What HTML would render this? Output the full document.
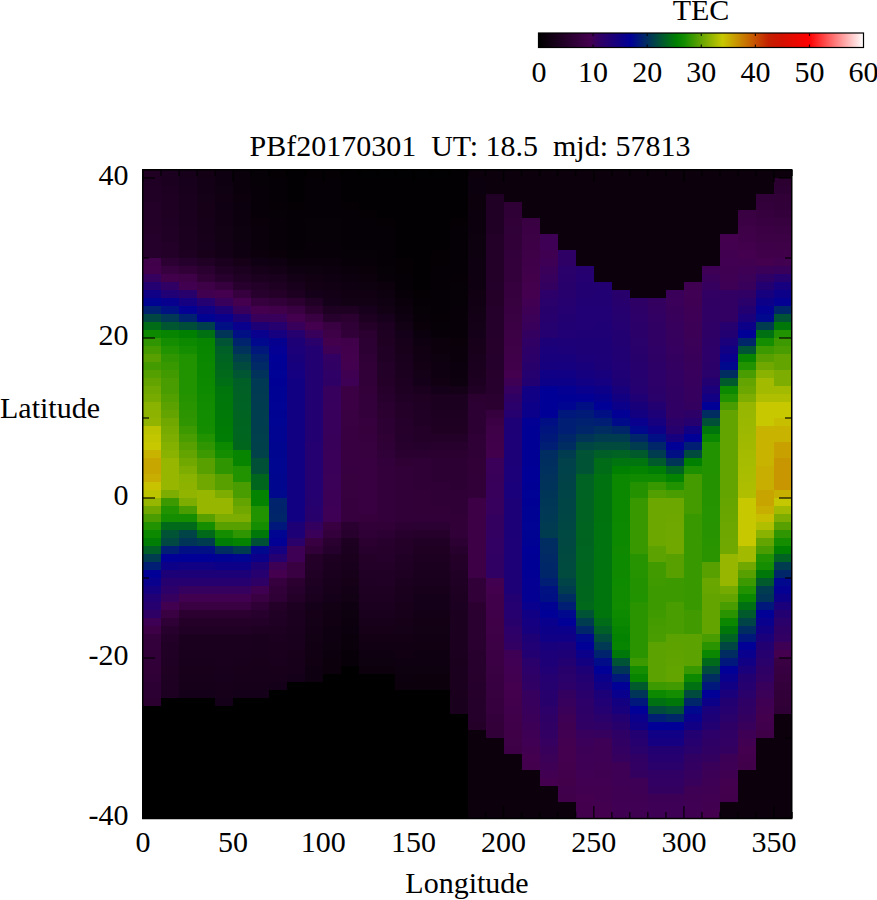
<!DOCTYPE html>
<html><head><meta charset="utf-8"><title>TEC</title>
<style>
html,body{margin:0;padding:0;background:#fff;}
svg{display:block;}
text{font-family:"Liberation Serif",serif;font-size:30px;fill:#000;}
</style></head><body>
<svg width="877" height="900" viewBox="0 0 877 900">
<defs><linearGradient id="cb" x1="0" x2="1" y1="0" y2="0"><stop offset="0.00%" stop-color="#000000"/><stop offset="15.83%" stop-color="#44004e"/><stop offset="18.33%" stop-color="#320062"/><stop offset="23.33%" stop-color="#1a007a"/><stop offset="28.33%" stop-color="#000096"/><stop offset="42.50%" stop-color="#008000"/><stop offset="45.00%" stop-color="#148e00"/><stop offset="50.00%" stop-color="#64a400"/><stop offset="56.67%" stop-color="#c8c800"/><stop offset="63.33%" stop-color="#c87800"/><stop offset="70.83%" stop-color="#c42000"/><stop offset="75.00%" stop-color="#d41000"/><stop offset="83.33%" stop-color="#ff0000"/><stop offset="91.67%" stop-color="#ff8080"/><stop offset="100.00%" stop-color="#ffffff"/></linearGradient></defs>
<rect width="877" height="900" fill="#fff"/>
<g shape-rendering="crispEdges">
<rect x="143.0" y="170" width="18.33" height="8" fill="#1f0023"/>
<rect x="143.0" y="178" width="18.33" height="8" fill="#1f0024"/>
<rect x="143.0" y="186" width="18.33" height="8" fill="#200025"/>
<rect x="143.0" y="194" width="18.33" height="8" fill="#210026"/>
<rect x="143.0" y="202" width="18.33" height="16" fill="#220027"/>
<rect x="143.0" y="218" width="18.33" height="8" fill="#230028"/>
<rect x="143.0" y="226" width="18.33" height="8" fill="#240029"/>
<rect x="143.0" y="234" width="18.33" height="8" fill="#25002a"/>
<rect x="143.0" y="242" width="18.33" height="8" fill="#25002b"/>
<rect x="143.0" y="250" width="18.33" height="8" fill="#26002c"/>
<rect x="143.0" y="258" width="18.33" height="8" fill="#40004a"/>
<rect x="143.0" y="266" width="18.33" height="8" fill="#42004c"/>
<rect x="143.0" y="274" width="18.33" height="8" fill="#36005e"/>
<rect x="143.0" y="282" width="18.33" height="8" fill="#240070"/>
<rect x="143.0" y="290" width="18.33" height="8" fill="#100085"/>
<rect x="143.0" y="298" width="18.33" height="8" fill="#000392"/>
<rect x="143.0" y="306" width="18.33" height="8" fill="#00216f"/>
<rect x="143.0" y="314" width="18.33" height="8" fill="#004743"/>
<rect x="143.0" y="322" width="18.33" height="8" fill="#006c17"/>
<rect x="143.0" y="330" width="18.33" height="8" fill="#0d8900"/>
<rect x="143.0" y="338" width="18.33" height="8" fill="#2f9500"/>
<rect x="143.0" y="346" width="18.33" height="8" fill="#439b00"/>
<rect x="143.0" y="354" width="18.33" height="8" fill="#57a000"/>
<rect x="143.0" y="362" width="18.33" height="8" fill="#449b00"/>
<rect x="143.0" y="370" width="18.33" height="8" fill="#54a000"/>
<rect x="143.0" y="378" width="18.33" height="8" fill="#64a400"/>
<rect x="143.0" y="386" width="18.33" height="8" fill="#6ea800"/>
<rect x="143.0" y="394" width="18.33" height="8" fill="#78ab00"/>
<rect x="143.0" y="402" width="18.33" height="8" fill="#8ab200"/>
<rect x="143.0" y="410" width="18.33" height="8" fill="#8db300"/>
<rect x="143.0" y="418" width="18.33" height="8" fill="#91b400"/>
<rect x="143.0" y="426" width="18.33" height="8" fill="#bcc400"/>
<rect x="143.0" y="434" width="18.33" height="8" fill="#c2c600"/>
<rect x="143.0" y="442" width="18.33" height="8" fill="#c8c800"/>
<rect x="143.0" y="450" width="18.33" height="8" fill="#c8b400"/>
<rect x="143.0" y="458" width="18.33" height="16" fill="#c8a600"/>
<rect x="143.0" y="474" width="18.33" height="8" fill="#c8ae00"/>
<rect x="143.0" y="482" width="18.33" height="8" fill="#c8c200"/>
<rect x="143.0" y="490" width="18.33" height="8" fill="#bcc400"/>
<rect x="143.0" y="498" width="18.33" height="8" fill="#96b600"/>
<rect x="143.0" y="506" width="18.33" height="8" fill="#70a800"/>
<rect x="143.0" y="514" width="18.33" height="8" fill="#499d00"/>
<rect x="143.0" y="522" width="18.33" height="8" fill="#219200"/>
<rect x="143.0" y="530" width="18.33" height="8" fill="#0d8900"/>
<rect x="143.0" y="538" width="18.33" height="8" fill="#007d04"/>
<rect x="143.0" y="546" width="18.33" height="8" fill="#005f27"/>
<rect x="143.0" y="554" width="18.33" height="8" fill="#003c4f"/>
<rect x="143.0" y="562" width="18.33" height="8" fill="#001e73"/>
<rect x="143.0" y="570" width="18.33" height="8" fill="#000096"/>
<rect x="143.0" y="578" width="18.33" height="8" fill="#09008d"/>
<rect x="143.0" y="586" width="18.33" height="8" fill="#140081"/>
<rect x="143.0" y="594" width="18.33" height="8" fill="#200074"/>
<rect x="143.0" y="602" width="18.33" height="8" fill="#26006e"/>
<rect x="143.0" y="610" width="18.33" height="8" fill="#2e0066"/>
<rect x="143.0" y="618" width="18.33" height="8" fill="#3e0055"/>
<rect x="143.0" y="626" width="18.33" height="8" fill="#3d0046"/>
<rect x="143.0" y="634" width="18.33" height="8" fill="#34003c"/>
<rect x="143.0" y="642" width="18.33" height="8" fill="#33003b"/>
<rect x="143.0" y="650" width="18.33" height="8" fill="#320039"/>
<rect x="143.0" y="658" width="18.33" height="8" fill="#310038"/>
<rect x="143.0" y="666" width="18.33" height="8" fill="#300037"/>
<rect x="143.0" y="674" width="18.33" height="8" fill="#2e0035"/>
<rect x="143.0" y="682" width="18.33" height="8" fill="#2d0034"/>
<rect x="143.0" y="690" width="18.33" height="8" fill="#2c0033"/>
<rect x="143.0" y="698" width="18.33" height="8" fill="#2b0031"/>
<rect x="143.0" y="706" width="18.33" height="112" fill="#000000"/>
<rect x="161.03" y="170" width="18.33" height="8" fill="#1b001f"/>
<rect x="161.03" y="178" width="18.33" height="8" fill="#1c0020"/>
<rect x="161.03" y="186" width="18.33" height="8" fill="#1d0021"/>
<rect x="161.03" y="194" width="18.33" height="8" fill="#1d0022"/>
<rect x="161.03" y="202" width="18.33" height="8" fill="#1e0022"/>
<rect x="161.03" y="210" width="18.33" height="8" fill="#1f0023"/>
<rect x="161.03" y="218" width="18.33" height="8" fill="#1f0024"/>
<rect x="161.03" y="226" width="18.33" height="8" fill="#200025"/>
<rect x="161.03" y="234" width="18.33" height="8" fill="#210026"/>
<rect x="161.03" y="242" width="18.33" height="16" fill="#220027"/>
<rect x="161.03" y="258" width="18.33" height="8" fill="#2d0033"/>
<rect x="161.03" y="266" width="18.33" height="8" fill="#37003f"/>
<rect x="161.03" y="274" width="18.33" height="8" fill="#42004c"/>
<rect x="161.03" y="282" width="18.33" height="8" fill="#300064"/>
<rect x="161.03" y="290" width="18.33" height="8" fill="#200074"/>
<rect x="161.03" y="298" width="18.33" height="8" fill="#07008f"/>
<rect x="161.03" y="306" width="18.33" height="8" fill="#001281"/>
<rect x="161.03" y="314" width="18.33" height="8" fill="#003855"/>
<rect x="161.03" y="322" width="18.33" height="8" fill="#005631"/>
<rect x="161.03" y="330" width="18.33" height="8" fill="#078500"/>
<rect x="161.03" y="338" width="18.33" height="8" fill="#148e00"/>
<rect x="161.03" y="346" width="18.33" height="8" fill="#219200"/>
<rect x="161.03" y="354" width="18.33" height="8" fill="#2f9500"/>
<rect x="161.03" y="362" width="18.33" height="8" fill="#389800"/>
<rect x="161.03" y="370" width="18.33" height="8" fill="#409a00"/>
<rect x="161.03" y="378" width="18.33" height="16" fill="#499d00"/>
<rect x="161.03" y="394" width="18.33" height="8" fill="#529f00"/>
<rect x="161.03" y="402" width="18.33" height="8" fill="#5ba200"/>
<rect x="161.03" y="410" width="18.33" height="8" fill="#64a400"/>
<rect x="161.03" y="418" width="18.33" height="8" fill="#70a800"/>
<rect x="161.03" y="426" width="18.33" height="8" fill="#77ab00"/>
<rect x="161.03" y="434" width="18.33" height="8" fill="#7dad00"/>
<rect x="161.03" y="442" width="18.33" height="8" fill="#84b000"/>
<rect x="161.03" y="450" width="18.33" height="8" fill="#8ab200"/>
<rect x="161.03" y="458" width="18.33" height="32" fill="#96b600"/>
<rect x="161.03" y="490" width="18.33" height="8" fill="#7dad00"/>
<rect x="161.03" y="498" width="18.33" height="8" fill="#3c9900"/>
<rect x="161.03" y="506" width="18.33" height="8" fill="#219200"/>
<rect x="161.03" y="514" width="18.33" height="8" fill="#148e00"/>
<rect x="161.03" y="522" width="18.33" height="8" fill="#00691a"/>
<rect x="161.03" y="530" width="18.33" height="8" fill="#005335"/>
<rect x="161.03" y="538" width="18.33" height="8" fill="#004841"/>
<rect x="161.03" y="546" width="18.33" height="8" fill="#001e73"/>
<rect x="161.03" y="554" width="18.33" height="8" fill="#000096"/>
<rect x="161.03" y="562" width="18.33" height="8" fill="#0d0088"/>
<rect x="161.03" y="570" width="18.33" height="8" fill="#1c0078"/>
<rect x="161.03" y="578" width="18.33" height="8" fill="#26006e"/>
<rect x="161.03" y="586" width="18.33" height="8" fill="#2c0068"/>
<rect x="161.03" y="594" width="18.33" height="8" fill="#36005e"/>
<rect x="161.03" y="602" width="18.33" height="8" fill="#420051"/>
<rect x="161.03" y="610" width="18.33" height="8" fill="#390042"/>
<rect x="161.03" y="618" width="18.33" height="8" fill="#2f0035"/>
<rect x="161.03" y="626" width="18.33" height="8" fill="#27002d"/>
<rect x="161.03" y="634" width="18.33" height="8" fill="#220027"/>
<rect x="161.03" y="642" width="18.33" height="8" fill="#210026"/>
<rect x="161.03" y="650" width="18.33" height="8" fill="#200025"/>
<rect x="161.03" y="658" width="18.33" height="8" fill="#1f0024"/>
<rect x="161.03" y="666" width="18.33" height="8" fill="#1f0023"/>
<rect x="161.03" y="674" width="18.33" height="8" fill="#1e0022"/>
<rect x="161.03" y="682" width="18.33" height="8" fill="#1d0022"/>
<rect x="161.03" y="690" width="18.33" height="8" fill="#1d0021"/>
<rect x="161.03" y="698" width="18.33" height="120" fill="#000000"/>
<rect x="179.06" y="170" width="18.33" height="8" fill="#17001a"/>
<rect x="179.06" y="178" width="18.33" height="8" fill="#17001b"/>
<rect x="179.06" y="186" width="18.33" height="8" fill="#18001c"/>
<rect x="179.06" y="194" width="18.33" height="8" fill="#19001c"/>
<rect x="179.06" y="202" width="18.33" height="8" fill="#19001d"/>
<rect x="179.06" y="210" width="18.33" height="16" fill="#1a001e"/>
<rect x="179.06" y="226" width="18.33" height="8" fill="#1b001f"/>
<rect x="179.06" y="234" width="18.33" height="8" fill="#1b0020"/>
<rect x="179.06" y="242" width="18.33" height="8" fill="#1c0020"/>
<rect x="179.06" y="250" width="18.33" height="8" fill="#1d0021"/>
<rect x="179.06" y="258" width="18.33" height="8" fill="#26002c"/>
<rect x="179.06" y="266" width="18.33" height="8" fill="#300037"/>
<rect x="179.06" y="274" width="18.33" height="8" fill="#3e0047"/>
<rect x="179.06" y="282" width="18.33" height="8" fill="#420051"/>
<rect x="179.06" y="290" width="18.33" height="8" fill="#28006c"/>
<rect x="179.06" y="298" width="18.33" height="8" fill="#140081"/>
<rect x="179.06" y="306" width="18.33" height="8" fill="#030093"/>
<rect x="179.06" y="314" width="18.33" height="8" fill="#00216f"/>
<rect x="179.06" y="322" width="18.33" height="8" fill="#004e3a"/>
<rect x="179.06" y="330" width="18.33" height="8" fill="#008000"/>
<rect x="179.06" y="338" width="18.33" height="8" fill="#0d8900"/>
<rect x="179.06" y="346" width="18.33" height="8" fill="#148e00"/>
<rect x="179.06" y="354" width="18.33" height="40" fill="#219200"/>
<rect x="179.06" y="394" width="18.33" height="8" fill="#259300"/>
<rect x="179.06" y="402" width="18.33" height="8" fill="#289400"/>
<rect x="179.06" y="410" width="18.33" height="8" fill="#2b9400"/>
<rect x="179.06" y="418" width="18.33" height="8" fill="#2f9500"/>
<rect x="179.06" y="426" width="18.33" height="8" fill="#3c9900"/>
<rect x="179.06" y="434" width="18.33" height="8" fill="#499d00"/>
<rect x="179.06" y="442" width="18.33" height="8" fill="#57a000"/>
<rect x="179.06" y="450" width="18.33" height="8" fill="#64a400"/>
<rect x="179.06" y="458" width="18.33" height="8" fill="#70a800"/>
<rect x="179.06" y="466" width="18.33" height="8" fill="#7dad00"/>
<rect x="179.06" y="474" width="18.33" height="8" fill="#8ab200"/>
<rect x="179.06" y="482" width="18.33" height="8" fill="#8db300"/>
<rect x="179.06" y="490" width="18.33" height="8" fill="#91b400"/>
<rect x="179.06" y="498" width="18.33" height="8" fill="#7dad00"/>
<rect x="179.06" y="506" width="18.33" height="8" fill="#499d00"/>
<rect x="179.06" y="514" width="18.33" height="8" fill="#148e00"/>
<rect x="179.06" y="522" width="18.33" height="8" fill="#00691a"/>
<rect x="179.06" y="530" width="18.33" height="8" fill="#004447"/>
<rect x="179.06" y="538" width="18.33" height="8" fill="#003558"/>
<rect x="179.06" y="546" width="18.33" height="8" fill="#000f84"/>
<rect x="179.06" y="554" width="18.33" height="8" fill="#000096"/>
<rect x="179.06" y="562" width="18.33" height="8" fill="#0f0086"/>
<rect x="179.06" y="570" width="18.33" height="8" fill="#1c0078"/>
<rect x="179.06" y="578" width="18.33" height="8" fill="#26006e"/>
<rect x="179.06" y="586" width="18.33" height="8" fill="#36005e"/>
<rect x="179.06" y="594" width="18.33" height="8" fill="#420051"/>
<rect x="179.06" y="602" width="18.33" height="8" fill="#390042"/>
<rect x="179.06" y="610" width="18.33" height="8" fill="#2b0031"/>
<rect x="179.06" y="618" width="18.33" height="8" fill="#240029"/>
<rect x="179.06" y="626" width="18.33" height="8" fill="#200025"/>
<rect x="179.06" y="634" width="18.33" height="16" fill="#1a001e"/>
<rect x="179.06" y="650" width="18.33" height="8" fill="#19001d"/>
<rect x="179.06" y="658" width="18.33" height="8" fill="#18001c"/>
<rect x="179.06" y="666" width="18.33" height="8" fill="#18001b"/>
<rect x="179.06" y="674" width="18.33" height="8" fill="#17001a"/>
<rect x="179.06" y="682" width="18.33" height="8" fill="#160019"/>
<rect x="179.06" y="690" width="18.33" height="8" fill="#150019"/>
<rect x="179.06" y="698" width="18.33" height="120" fill="#000000"/>
<rect x="197.09" y="170" width="18.33" height="8" fill="#130015"/>
<rect x="197.09" y="178" width="18.33" height="8" fill="#130016"/>
<rect x="197.09" y="186" width="18.33" height="8" fill="#140016"/>
<rect x="197.09" y="194" width="18.33" height="8" fill="#140017"/>
<rect x="197.09" y="202" width="18.33" height="16" fill="#150018"/>
<rect x="197.09" y="218" width="18.33" height="16" fill="#160019"/>
<rect x="197.09" y="234" width="18.33" height="8" fill="#17001a"/>
<rect x="197.09" y="242" width="18.33" height="8" fill="#17001b"/>
<rect x="197.09" y="250" width="18.33" height="8" fill="#18001b"/>
<rect x="197.09" y="258" width="18.33" height="8" fill="#200025"/>
<rect x="197.09" y="266" width="18.33" height="8" fill="#29002f"/>
<rect x="197.09" y="274" width="18.33" height="8" fill="#300037"/>
<rect x="197.09" y="282" width="18.33" height="8" fill="#3e0047"/>
<rect x="197.09" y="290" width="18.33" height="8" fill="#420051"/>
<rect x="197.09" y="298" width="18.33" height="8" fill="#240070"/>
<rect x="197.09" y="306" width="18.33" height="8" fill="#100085"/>
<rect x="197.09" y="314" width="18.33" height="8" fill="#000392"/>
<rect x="197.09" y="322" width="18.33" height="8" fill="#003f4c"/>
<rect x="197.09" y="330" width="18.33" height="8" fill="#007112"/>
<rect x="197.09" y="338" width="18.33" height="8" fill="#078500"/>
<rect x="197.09" y="346" width="18.33" height="8" fill="#088600"/>
<rect x="197.09" y="354" width="18.33" height="8" fill="#098700"/>
<rect x="197.09" y="362" width="18.33" height="8" fill="#0b8700"/>
<rect x="197.09" y="370" width="18.33" height="8" fill="#0c8800"/>
<rect x="197.09" y="378" width="18.33" height="8" fill="#0d8900"/>
<rect x="197.09" y="386" width="18.33" height="8" fill="#0e8a00"/>
<rect x="197.09" y="394" width="18.33" height="8" fill="#108b00"/>
<rect x="197.09" y="402" width="18.33" height="8" fill="#118c00"/>
<rect x="197.09" y="410" width="18.33" height="8" fill="#128c00"/>
<rect x="197.09" y="418" width="18.33" height="8" fill="#138d00"/>
<rect x="197.09" y="426" width="18.33" height="8" fill="#148e00"/>
<rect x="197.09" y="434" width="18.33" height="8" fill="#219200"/>
<rect x="197.09" y="442" width="18.33" height="8" fill="#2f9500"/>
<rect x="197.09" y="450" width="18.33" height="8" fill="#3c9900"/>
<rect x="197.09" y="458" width="18.33" height="16" fill="#57a000"/>
<rect x="197.09" y="474" width="18.33" height="16" fill="#70a800"/>
<rect x="197.09" y="490" width="18.33" height="24" fill="#96b600"/>
<rect x="197.09" y="514" width="18.33" height="8" fill="#57a000"/>
<rect x="197.09" y="522" width="18.33" height="8" fill="#148e00"/>
<rect x="197.09" y="530" width="18.33" height="8" fill="#00691a"/>
<rect x="197.09" y="538" width="18.33" height="8" fill="#003c4f"/>
<rect x="197.09" y="546" width="18.33" height="8" fill="#000f84"/>
<rect x="197.09" y="554" width="18.33" height="8" fill="#000096"/>
<rect x="197.09" y="562" width="18.33" height="8" fill="#0f0086"/>
<rect x="197.09" y="570" width="18.33" height="8" fill="#1c0078"/>
<rect x="197.09" y="578" width="18.33" height="8" fill="#26006e"/>
<rect x="197.09" y="586" width="18.33" height="8" fill="#36005e"/>
<rect x="197.09" y="594" width="18.33" height="8" fill="#420051"/>
<rect x="197.09" y="602" width="18.33" height="8" fill="#390042"/>
<rect x="197.09" y="610" width="18.33" height="8" fill="#2b0031"/>
<rect x="197.09" y="618" width="18.33" height="8" fill="#240029"/>
<rect x="197.09" y="626" width="18.33" height="8" fill="#200025"/>
<rect x="197.09" y="634" width="18.33" height="16" fill="#1a001e"/>
<rect x="197.09" y="650" width="18.33" height="8" fill="#19001d"/>
<rect x="197.09" y="658" width="18.33" height="8" fill="#18001c"/>
<rect x="197.09" y="666" width="18.33" height="8" fill="#18001b"/>
<rect x="197.09" y="674" width="18.33" height="8" fill="#17001a"/>
<rect x="197.09" y="682" width="18.33" height="8" fill="#160019"/>
<rect x="197.09" y="690" width="18.33" height="8" fill="#150019"/>
<rect x="197.09" y="698" width="18.33" height="120" fill="#000000"/>
<rect x="215.12" y="170" width="18.33" height="8" fill="#0e0010"/>
<rect x="215.12" y="178" width="18.33" height="8" fill="#0f0011"/>
<rect x="215.12" y="186" width="18.33" height="8" fill="#0f0012"/>
<rect x="215.12" y="194" width="18.33" height="8" fill="#100012"/>
<rect x="215.12" y="202" width="18.33" height="8" fill="#100013"/>
<rect x="215.12" y="210" width="18.33" height="8" fill="#110013"/>
<rect x="215.12" y="218" width="18.33" height="8" fill="#110014"/>
<rect x="215.12" y="226" width="18.33" height="8" fill="#120014"/>
<rect x="215.12" y="234" width="18.33" height="8" fill="#120015"/>
<rect x="215.12" y="242" width="18.33" height="16" fill="#130016"/>
<rect x="215.12" y="258" width="18.33" height="8" fill="#1a001e"/>
<rect x="215.12" y="266" width="18.33" height="8" fill="#210025"/>
<rect x="215.12" y="274" width="18.33" height="8" fill="#27002d"/>
<rect x="215.12" y="282" width="18.33" height="8" fill="#36003e"/>
<rect x="215.12" y="290" width="18.33" height="8" fill="#44004e"/>
<rect x="215.12" y="298" width="18.33" height="8" fill="#38005b"/>
<rect x="215.12" y="306" width="18.33" height="8" fill="#1e0076"/>
<rect x="215.12" y="314" width="18.33" height="8" fill="#09008d"/>
<rect x="215.12" y="322" width="18.33" height="8" fill="#000f84"/>
<rect x="215.12" y="330" width="18.33" height="8" fill="#003558"/>
<rect x="215.12" y="338" width="18.33" height="8" fill="#005335"/>
<rect x="215.12" y="346" width="18.33" height="8" fill="#005f27"/>
<rect x="215.12" y="354" width="18.33" height="8" fill="#006322"/>
<rect x="215.12" y="362" width="18.33" height="8" fill="#00661e"/>
<rect x="215.12" y="370" width="18.33" height="8" fill="#006a1a"/>
<rect x="215.12" y="378" width="18.33" height="8" fill="#006e15"/>
<rect x="215.12" y="386" width="18.33" height="8" fill="#00750c"/>
<rect x="215.12" y="394" width="18.33" height="8" fill="#00770b"/>
<rect x="215.12" y="402" width="18.33" height="8" fill="#007809"/>
<rect x="215.12" y="410" width="18.33" height="8" fill="#007908"/>
<rect x="215.12" y="418" width="18.33" height="8" fill="#007a06"/>
<rect x="215.12" y="426" width="18.33" height="8" fill="#007c05"/>
<rect x="215.12" y="434" width="18.33" height="8" fill="#007d04"/>
<rect x="215.12" y="442" width="18.33" height="8" fill="#0d8900"/>
<rect x="215.12" y="450" width="18.33" height="8" fill="#148e00"/>
<rect x="215.12" y="458" width="18.33" height="16" fill="#2f9500"/>
<rect x="215.12" y="474" width="18.33" height="16" fill="#57a000"/>
<rect x="215.12" y="490" width="18.33" height="8" fill="#7dad00"/>
<rect x="215.12" y="498" width="18.33" height="16" fill="#96b600"/>
<rect x="215.12" y="514" width="18.33" height="8" fill="#7dad00"/>
<rect x="215.12" y="522" width="18.33" height="8" fill="#57a000"/>
<rect x="215.12" y="530" width="18.33" height="8" fill="#148e00"/>
<rect x="215.12" y="538" width="18.33" height="8" fill="#007d04"/>
<rect x="215.12" y="546" width="18.33" height="8" fill="#002d61"/>
<rect x="215.12" y="554" width="18.33" height="8" fill="#000392"/>
<rect x="215.12" y="562" width="18.33" height="8" fill="#0d0088"/>
<rect x="215.12" y="570" width="18.33" height="8" fill="#1c0078"/>
<rect x="215.12" y="578" width="18.33" height="8" fill="#26006e"/>
<rect x="215.12" y="586" width="18.33" height="8" fill="#36005e"/>
<rect x="215.12" y="594" width="18.33" height="8" fill="#420051"/>
<rect x="215.12" y="602" width="18.33" height="8" fill="#390042"/>
<rect x="215.12" y="610" width="18.33" height="8" fill="#2b0031"/>
<rect x="215.12" y="618" width="18.33" height="8" fill="#240029"/>
<rect x="215.12" y="626" width="18.33" height="8" fill="#200025"/>
<rect x="215.12" y="634" width="18.33" height="16" fill="#1a001e"/>
<rect x="215.12" y="650" width="18.33" height="8" fill="#19001d"/>
<rect x="215.12" y="658" width="18.33" height="8" fill="#19001c"/>
<rect x="215.12" y="666" width="18.33" height="8" fill="#18001c"/>
<rect x="215.12" y="674" width="18.33" height="8" fill="#17001b"/>
<rect x="215.12" y="682" width="18.33" height="8" fill="#17001a"/>
<rect x="215.12" y="690" width="18.33" height="8" fill="#160019"/>
<rect x="215.12" y="698" width="18.33" height="8" fill="#150019"/>
<rect x="215.12" y="706" width="18.33" height="112" fill="#000000"/>
<rect x="233.15" y="170" width="18.33" height="8" fill="#09000b"/>
<rect x="233.15" y="178" width="18.33" height="8" fill="#0a000b"/>
<rect x="233.15" y="186" width="18.33" height="8" fill="#0a000c"/>
<rect x="233.15" y="194" width="18.33" height="8" fill="#0b000c"/>
<rect x="233.15" y="202" width="18.33" height="8" fill="#0b000d"/>
<rect x="233.15" y="210" width="18.33" height="16" fill="#0c000e"/>
<rect x="233.15" y="226" width="18.33" height="16" fill="#0d000f"/>
<rect x="233.15" y="242" width="18.33" height="16" fill="#0e0010"/>
<rect x="233.15" y="258" width="18.33" height="8" fill="#150018"/>
<rect x="233.15" y="266" width="18.33" height="8" fill="#1b001f"/>
<rect x="233.15" y="274" width="18.33" height="8" fill="#210026"/>
<rect x="233.15" y="282" width="18.33" height="8" fill="#27002d"/>
<rect x="233.15" y="290" width="18.33" height="8" fill="#36003e"/>
<rect x="233.15" y="298" width="18.33" height="8" fill="#44004e"/>
<rect x="233.15" y="306" width="18.33" height="8" fill="#38005b"/>
<rect x="233.15" y="314" width="18.33" height="8" fill="#1e0076"/>
<rect x="233.15" y="322" width="18.33" height="8" fill="#09008d"/>
<rect x="233.15" y="330" width="18.33" height="8" fill="#000f84"/>
<rect x="233.15" y="338" width="18.33" height="8" fill="#00236d"/>
<rect x="233.15" y="346" width="18.33" height="8" fill="#00325c"/>
<rect x="233.15" y="354" width="18.33" height="8" fill="#00414a"/>
<rect x="233.15" y="362" width="18.33" height="8" fill="#004b3e"/>
<rect x="233.15" y="370" width="18.33" height="8" fill="#005533"/>
<rect x="233.15" y="378" width="18.33" height="8" fill="#005f27"/>
<rect x="233.15" y="386" width="18.33" height="8" fill="#006026"/>
<rect x="233.15" y="394" width="18.33" height="8" fill="#006125"/>
<rect x="233.15" y="402" width="18.33" height="8" fill="#006224"/>
<rect x="233.15" y="410" width="18.33" height="8" fill="#006322"/>
<rect x="233.15" y="418" width="18.33" height="8" fill="#006421"/>
<rect x="233.15" y="426" width="18.33" height="8" fill="#006520"/>
<rect x="233.15" y="434" width="18.33" height="8" fill="#00651f"/>
<rect x="233.15" y="442" width="18.33" height="8" fill="#00661e"/>
<rect x="233.15" y="450" width="18.33" height="16" fill="#078500"/>
<rect x="233.15" y="466" width="18.33" height="16" fill="#219200"/>
<rect x="233.15" y="482" width="18.33" height="16" fill="#499d00"/>
<rect x="233.15" y="498" width="18.33" height="8" fill="#64a400"/>
<rect x="233.15" y="506" width="18.33" height="8" fill="#70a800"/>
<rect x="233.15" y="514" width="18.33" height="8" fill="#7dad00"/>
<rect x="233.15" y="522" width="18.33" height="8" fill="#57a000"/>
<rect x="233.15" y="530" width="18.33" height="8" fill="#2f9500"/>
<rect x="233.15" y="538" width="18.33" height="8" fill="#048300"/>
<rect x="233.15" y="546" width="18.33" height="8" fill="#003c4f"/>
<rect x="233.15" y="554" width="18.33" height="8" fill="#000591"/>
<rect x="233.15" y="562" width="18.33" height="8" fill="#0d0088"/>
<rect x="233.15" y="570" width="18.33" height="8" fill="#1c0078"/>
<rect x="233.15" y="578" width="18.33" height="8" fill="#26006e"/>
<rect x="233.15" y="586" width="18.33" height="8" fill="#36005e"/>
<rect x="233.15" y="594" width="18.33" height="8" fill="#420051"/>
<rect x="233.15" y="602" width="18.33" height="8" fill="#390042"/>
<rect x="233.15" y="610" width="18.33" height="8" fill="#2b0031"/>
<rect x="233.15" y="618" width="18.33" height="8" fill="#240029"/>
<rect x="233.15" y="626" width="18.33" height="8" fill="#200025"/>
<rect x="233.15" y="634" width="18.33" height="16" fill="#1a001e"/>
<rect x="233.15" y="650" width="18.33" height="8" fill="#19001d"/>
<rect x="233.15" y="658" width="18.33" height="8" fill="#18001c"/>
<rect x="233.15" y="666" width="18.33" height="8" fill="#18001b"/>
<rect x="233.15" y="674" width="18.33" height="8" fill="#17001a"/>
<rect x="233.15" y="682" width="18.33" height="8" fill="#160019"/>
<rect x="233.15" y="690" width="18.33" height="8" fill="#150019"/>
<rect x="233.15" y="698" width="18.33" height="120" fill="#000000"/>
<rect x="251.18" y="170" width="18.33" height="16" fill="#060007"/>
<rect x="251.18" y="186" width="18.33" height="16" fill="#070008"/>
<rect x="251.18" y="202" width="18.33" height="16" fill="#080009"/>
<rect x="251.18" y="218" width="18.33" height="8" fill="#09000a"/>
<rect x="251.18" y="226" width="18.33" height="8" fill="#09000b"/>
<rect x="251.18" y="234" width="18.33" height="8" fill="#0a000b"/>
<rect x="251.18" y="242" width="18.33" height="8" fill="#0a000c"/>
<rect x="251.18" y="250" width="18.33" height="8" fill="#0b000c"/>
<rect x="251.18" y="258" width="18.33" height="8" fill="#100013"/>
<rect x="251.18" y="266" width="18.33" height="8" fill="#160019"/>
<rect x="251.18" y="274" width="18.33" height="8" fill="#1c0020"/>
<rect x="251.18" y="282" width="18.33" height="8" fill="#220027"/>
<rect x="251.18" y="290" width="18.33" height="8" fill="#27002d"/>
<rect x="251.18" y="298" width="18.33" height="8" fill="#36003e"/>
<rect x="251.18" y="306" width="18.33" height="8" fill="#44004e"/>
<rect x="251.18" y="314" width="18.33" height="8" fill="#38005b"/>
<rect x="251.18" y="322" width="18.33" height="8" fill="#1e0076"/>
<rect x="251.18" y="330" width="18.33" height="8" fill="#09008d"/>
<rect x="251.18" y="338" width="18.33" height="8" fill="#00088d"/>
<rect x="251.18" y="346" width="18.33" height="8" fill="#00177c"/>
<rect x="251.18" y="354" width="18.33" height="8" fill="#00236d"/>
<rect x="251.18" y="362" width="18.33" height="8" fill="#002a65"/>
<rect x="251.18" y="370" width="18.33" height="8" fill="#00325c"/>
<rect x="251.18" y="378" width="18.33" height="8" fill="#003953"/>
<rect x="251.18" y="386" width="18.33" height="8" fill="#003a52"/>
<rect x="251.18" y="394" width="18.33" height="8" fill="#003b51"/>
<rect x="251.18" y="402" width="18.33" height="8" fill="#003c50"/>
<rect x="251.18" y="410" width="18.33" height="8" fill="#003d4f"/>
<rect x="251.18" y="418" width="18.33" height="8" fill="#003d4e"/>
<rect x="251.18" y="426" width="18.33" height="8" fill="#003e4d"/>
<rect x="251.18" y="434" width="18.33" height="8" fill="#003f4c"/>
<rect x="251.18" y="442" width="18.33" height="8" fill="#00404b"/>
<rect x="251.18" y="450" width="18.33" height="8" fill="#00414a"/>
<rect x="251.18" y="458" width="18.33" height="16" fill="#005038"/>
<rect x="251.18" y="474" width="18.33" height="16" fill="#00661e"/>
<rect x="251.18" y="490" width="18.33" height="16" fill="#048300"/>
<rect x="251.18" y="506" width="18.33" height="16" fill="#219200"/>
<rect x="251.18" y="522" width="18.33" height="8" fill="#148e00"/>
<rect x="251.18" y="530" width="18.33" height="8" fill="#007809"/>
<rect x="251.18" y="538" width="18.33" height="8" fill="#005038"/>
<rect x="251.18" y="546" width="18.33" height="8" fill="#00088d"/>
<rect x="251.18" y="554" width="18.33" height="8" fill="#0b008a"/>
<rect x="251.18" y="562" width="18.33" height="8" fill="#1e0076"/>
<rect x="251.18" y="570" width="18.33" height="8" fill="#26006e"/>
<rect x="251.18" y="578" width="18.33" height="8" fill="#2e0066"/>
<rect x="251.18" y="586" width="18.33" height="8" fill="#400052"/>
<rect x="251.18" y="594" width="18.33" height="8" fill="#390042"/>
<rect x="251.18" y="602" width="18.33" height="8" fill="#2f0035"/>
<rect x="251.18" y="610" width="18.33" height="8" fill="#27002d"/>
<rect x="251.18" y="618" width="18.33" height="8" fill="#220027"/>
<rect x="251.18" y="626" width="18.33" height="8" fill="#1e0022"/>
<rect x="251.18" y="634" width="18.33" height="8" fill="#19001d"/>
<rect x="251.18" y="642" width="18.33" height="8" fill="#19001c"/>
<rect x="251.18" y="650" width="18.33" height="8" fill="#18001c"/>
<rect x="251.18" y="658" width="18.33" height="8" fill="#18001b"/>
<rect x="251.18" y="666" width="18.33" height="8" fill="#17001a"/>
<rect x="251.18" y="674" width="18.33" height="8" fill="#16001a"/>
<rect x="251.18" y="682" width="18.33" height="8" fill="#160019"/>
<rect x="251.18" y="690" width="18.33" height="8" fill="#150019"/>
<rect x="251.18" y="698" width="18.33" height="120" fill="#000000"/>
<rect x="269.21" y="170" width="18.33" height="8" fill="#040004"/>
<rect x="269.21" y="178" width="18.33" height="8" fill="#040005"/>
<rect x="269.21" y="186" width="18.33" height="8" fill="#050005"/>
<rect x="269.21" y="194" width="18.33" height="8" fill="#050006"/>
<rect x="269.21" y="202" width="18.33" height="8" fill="#060006"/>
<rect x="269.21" y="210" width="18.33" height="8" fill="#060007"/>
<rect x="269.21" y="218" width="18.33" height="16" fill="#070008"/>
<rect x="269.21" y="234" width="18.33" height="16" fill="#080009"/>
<rect x="269.21" y="250" width="18.33" height="8" fill="#09000a"/>
<rect x="269.21" y="258" width="18.33" height="8" fill="#0e0010"/>
<rect x="269.21" y="266" width="18.33" height="8" fill="#130016"/>
<rect x="269.21" y="274" width="18.33" height="8" fill="#19001d"/>
<rect x="269.21" y="282" width="18.33" height="8" fill="#1e0023"/>
<rect x="269.21" y="290" width="18.33" height="8" fill="#240029"/>
<rect x="269.21" y="298" width="18.33" height="8" fill="#320039"/>
<rect x="269.21" y="306" width="18.33" height="8" fill="#40004a"/>
<rect x="269.21" y="314" width="18.33" height="8" fill="#38005b"/>
<rect x="269.21" y="322" width="18.33" height="8" fill="#26006e"/>
<rect x="269.21" y="330" width="18.33" height="8" fill="#16007f"/>
<rect x="269.21" y="338" width="18.33" height="8" fill="#06008f"/>
<rect x="269.21" y="346" width="18.33" height="8" fill="#030093"/>
<rect x="269.21" y="354" width="18.33" height="8" fill="#000096"/>
<rect x="269.21" y="362" width="18.33" height="8" fill="#000095"/>
<rect x="269.21" y="370" width="18.33" height="8" fill="#000195"/>
<rect x="269.21" y="378" width="18.33" height="8" fill="#000194"/>
<rect x="269.21" y="386" width="18.33" height="8" fill="#000294"/>
<rect x="269.21" y="394" width="18.33" height="8" fill="#000293"/>
<rect x="269.21" y="402" width="18.33" height="8" fill="#000393"/>
<rect x="269.21" y="410" width="18.33" height="8" fill="#000392"/>
<rect x="269.21" y="418" width="18.33" height="8" fill="#000492"/>
<rect x="269.21" y="426" width="18.33" height="16" fill="#000491"/>
<rect x="269.21" y="442" width="18.33" height="16" fill="#000590"/>
<rect x="269.21" y="458" width="18.33" height="16" fill="#00068f"/>
<rect x="269.21" y="474" width="18.33" height="16" fill="#00078e"/>
<rect x="269.21" y="490" width="18.33" height="8" fill="#00088d"/>
<rect x="269.21" y="498" width="18.33" height="8" fill="#00236d"/>
<rect x="269.21" y="506" width="18.33" height="8" fill="#00246c"/>
<rect x="269.21" y="514" width="18.33" height="8" fill="#00266a"/>
<rect x="269.21" y="522" width="18.33" height="8" fill="#00177c"/>
<rect x="269.21" y="530" width="18.33" height="8" fill="#000591"/>
<rect x="269.21" y="538" width="18.33" height="8" fill="#020094"/>
<rect x="269.21" y="546" width="18.33" height="8" fill="#140081"/>
<rect x="269.21" y="554" width="18.33" height="8" fill="#240070"/>
<rect x="269.21" y="562" width="18.33" height="8" fill="#3e0055"/>
<rect x="269.21" y="570" width="18.33" height="8" fill="#44004e"/>
<rect x="269.21" y="578" width="18.33" height="8" fill="#36003e"/>
<rect x="269.21" y="586" width="18.33" height="8" fill="#320039"/>
<rect x="269.21" y="594" width="18.33" height="8" fill="#2f0035"/>
<rect x="269.21" y="602" width="18.33" height="8" fill="#240029"/>
<rect x="269.21" y="610" width="18.33" height="8" fill="#210026"/>
<rect x="269.21" y="618" width="18.33" height="8" fill="#1f0024"/>
<rect x="269.21" y="626" width="18.33" height="8" fill="#1d0021"/>
<rect x="269.21" y="634" width="18.33" height="8" fill="#1c0020"/>
<rect x="269.21" y="642" width="18.33" height="8" fill="#1b001e"/>
<rect x="269.21" y="650" width="18.33" height="8" fill="#1a001d"/>
<rect x="269.21" y="658" width="18.33" height="8" fill="#19001c"/>
<rect x="269.21" y="666" width="18.33" height="8" fill="#18001b"/>
<rect x="269.21" y="674" width="18.33" height="8" fill="#16001a"/>
<rect x="269.21" y="682" width="18.33" height="8" fill="#150019"/>
<rect x="269.21" y="690" width="18.33" height="128" fill="#000000"/>
<rect x="287.24" y="170" width="18.33" height="8" fill="#020002"/>
<rect x="287.24" y="178" width="18.33" height="16" fill="#030003"/>
<rect x="287.24" y="194" width="18.33" height="8" fill="#030004"/>
<rect x="287.24" y="202" width="18.33" height="8" fill="#040004"/>
<rect x="287.24" y="210" width="18.33" height="16" fill="#040005"/>
<rect x="287.24" y="226" width="18.33" height="8" fill="#050005"/>
<rect x="287.24" y="234" width="18.33" height="16" fill="#050006"/>
<rect x="287.24" y="250" width="18.33" height="8" fill="#060007"/>
<rect x="287.24" y="258" width="18.33" height="8" fill="#0a000c"/>
<rect x="287.24" y="266" width="18.33" height="8" fill="#0f0011"/>
<rect x="287.24" y="274" width="18.33" height="8" fill="#130016"/>
<rect x="287.24" y="282" width="18.33" height="8" fill="#18001c"/>
<rect x="287.24" y="290" width="18.33" height="8" fill="#1d0021"/>
<rect x="287.24" y="298" width="18.33" height="8" fill="#2b0031"/>
<rect x="287.24" y="306" width="18.33" height="8" fill="#390042"/>
<rect x="287.24" y="314" width="18.33" height="8" fill="#44004e"/>
<rect x="287.24" y="322" width="18.33" height="8" fill="#38005b"/>
<rect x="287.24" y="330" width="18.33" height="8" fill="#26006e"/>
<rect x="287.24" y="338" width="18.33" height="8" fill="#1e0076"/>
<rect x="287.24" y="346" width="18.33" height="8" fill="#1b0079"/>
<rect x="287.24" y="354" width="18.33" height="8" fill="#19007b"/>
<rect x="287.24" y="362" width="18.33" height="8" fill="#17007e"/>
<rect x="287.24" y="370" width="18.33" height="8" fill="#140080"/>
<rect x="287.24" y="378" width="18.33" height="144" fill="#120082"/>
<rect x="287.24" y="522" width="18.33" height="16" fill="#1e0076"/>
<rect x="287.24" y="538" width="18.33" height="8" fill="#2a006a"/>
<rect x="287.24" y="546" width="18.33" height="16" fill="#3e0055"/>
<rect x="287.24" y="562" width="18.33" height="16" fill="#390042"/>
<rect x="287.24" y="578" width="18.33" height="8" fill="#2b0031"/>
<rect x="287.24" y="586" width="18.33" height="8" fill="#27002d"/>
<rect x="287.24" y="594" width="18.33" height="8" fill="#240029"/>
<rect x="287.24" y="602" width="18.33" height="8" fill="#1d0021"/>
<rect x="287.24" y="610" width="18.33" height="8" fill="#1c0020"/>
<rect x="287.24" y="618" width="18.33" height="8" fill="#1b001f"/>
<rect x="287.24" y="626" width="18.33" height="8" fill="#1a001e"/>
<rect x="287.24" y="634" width="18.33" height="8" fill="#19001d"/>
<rect x="287.24" y="642" width="18.33" height="8" fill="#19001c"/>
<rect x="287.24" y="650" width="18.33" height="8" fill="#18001b"/>
<rect x="287.24" y="658" width="18.33" height="8" fill="#17001a"/>
<rect x="287.24" y="666" width="18.33" height="8" fill="#16001a"/>
<rect x="287.24" y="674" width="18.33" height="8" fill="#150019"/>
<rect x="287.24" y="682" width="18.33" height="136" fill="#000000"/>
<rect x="305.27" y="170" width="18.33" height="8" fill="#040004"/>
<rect x="305.27" y="178" width="18.33" height="16" fill="#040005"/>
<rect x="305.27" y="194" width="18.33" height="8" fill="#050005"/>
<rect x="305.27" y="202" width="18.33" height="16" fill="#050006"/>
<rect x="305.27" y="218" width="18.33" height="24" fill="#060007"/>
<rect x="305.27" y="242" width="18.33" height="16" fill="#070008"/>
<rect x="305.27" y="258" width="18.33" height="8" fill="#0a000b"/>
<rect x="305.27" y="266" width="18.33" height="8" fill="#0d000f"/>
<rect x="305.27" y="274" width="18.33" height="8" fill="#100012"/>
<rect x="305.27" y="282" width="18.33" height="8" fill="#130015"/>
<rect x="305.27" y="290" width="18.33" height="8" fill="#150019"/>
<rect x="305.27" y="298" width="18.33" height="8" fill="#200025"/>
<rect x="305.27" y="306" width="18.33" height="8" fill="#2b0031"/>
<rect x="305.27" y="314" width="18.33" height="8" fill="#390042"/>
<rect x="305.27" y="322" width="18.33" height="8" fill="#44004e"/>
<rect x="305.27" y="330" width="18.33" height="8" fill="#38005b"/>
<rect x="305.27" y="338" width="18.33" height="8" fill="#2a006a"/>
<rect x="305.27" y="346" width="18.33" height="32" fill="#220072"/>
<rect x="305.27" y="378" width="18.33" height="64" fill="#230071"/>
<rect x="305.27" y="442" width="18.33" height="56" fill="#240070"/>
<rect x="305.27" y="498" width="18.33" height="8" fill="#25006f"/>
<rect x="305.27" y="506" width="18.33" height="8" fill="#27006d"/>
<rect x="305.27" y="514" width="18.33" height="8" fill="#28006c"/>
<rect x="305.27" y="522" width="18.33" height="8" fill="#34005f"/>
<rect x="305.27" y="530" width="18.33" height="8" fill="#3a0059"/>
<rect x="305.27" y="538" width="18.33" height="8" fill="#380040"/>
<rect x="305.27" y="546" width="18.33" height="8" fill="#320039"/>
<rect x="305.27" y="554" width="18.33" height="8" fill="#240029"/>
<rect x="305.27" y="562" width="18.33" height="8" fill="#220027"/>
<rect x="305.27" y="570" width="18.33" height="8" fill="#200025"/>
<rect x="305.27" y="578" width="18.33" height="8" fill="#1e0023"/>
<rect x="305.27" y="586" width="18.33" height="8" fill="#1c0021"/>
<rect x="305.27" y="594" width="18.33" height="8" fill="#1a001e"/>
<rect x="305.27" y="602" width="18.33" height="8" fill="#150019"/>
<rect x="305.27" y="610" width="18.33" height="8" fill="#150018"/>
<rect x="305.27" y="618" width="18.33" height="8" fill="#140017"/>
<rect x="305.27" y="626" width="18.33" height="8" fill="#130016"/>
<rect x="305.27" y="634" width="18.33" height="8" fill="#120015"/>
<rect x="305.27" y="642" width="18.33" height="8" fill="#110014"/>
<rect x="305.27" y="650" width="18.33" height="8" fill="#110013"/>
<rect x="305.27" y="658" width="18.33" height="8" fill="#100012"/>
<rect x="305.27" y="666" width="18.33" height="8" fill="#0f0011"/>
<rect x="305.27" y="674" width="18.33" height="8" fill="#0e0010"/>
<rect x="305.27" y="682" width="18.33" height="136" fill="#000000"/>
<rect x="323.3" y="170" width="18.33" height="8" fill="#040004"/>
<rect x="323.3" y="178" width="18.33" height="16" fill="#040005"/>
<rect x="323.3" y="194" width="18.33" height="8" fill="#050005"/>
<rect x="323.3" y="202" width="18.33" height="16" fill="#050006"/>
<rect x="323.3" y="218" width="18.33" height="24" fill="#060007"/>
<rect x="323.3" y="242" width="18.33" height="16" fill="#070008"/>
<rect x="323.3" y="258" width="18.33" height="8" fill="#0a000b"/>
<rect x="323.3" y="266" width="18.33" height="8" fill="#0c000e"/>
<rect x="323.3" y="274" width="18.33" height="8" fill="#0e0010"/>
<rect x="323.3" y="282" width="18.33" height="8" fill="#110013"/>
<rect x="323.3" y="290" width="18.33" height="8" fill="#130016"/>
<rect x="323.3" y="298" width="18.33" height="8" fill="#150019"/>
<rect x="323.3" y="306" width="18.33" height="8" fill="#1e0023"/>
<rect x="323.3" y="314" width="18.33" height="8" fill="#27002d"/>
<rect x="323.3" y="322" width="18.33" height="8" fill="#390042"/>
<rect x="323.3" y="330" width="18.33" height="8" fill="#3e0047"/>
<rect x="323.3" y="338" width="18.33" height="8" fill="#43004d"/>
<rect x="323.3" y="346" width="18.33" height="8" fill="#3e0055"/>
<rect x="323.3" y="354" width="18.33" height="8" fill="#320062"/>
<rect x="323.3" y="362" width="18.33" height="8" fill="#310063"/>
<rect x="323.3" y="370" width="18.33" height="8" fill="#2f0065"/>
<rect x="323.3" y="378" width="18.33" height="8" fill="#2e0066"/>
<rect x="323.3" y="386" width="18.33" height="8" fill="#37005d"/>
<rect x="323.3" y="394" width="18.33" height="8" fill="#37005c"/>
<rect x="323.3" y="402" width="18.33" height="8" fill="#38005c"/>
<rect x="323.3" y="410" width="18.33" height="16" fill="#38005b"/>
<rect x="323.3" y="426" width="18.33" height="8" fill="#39005b"/>
<rect x="323.3" y="434" width="18.33" height="16" fill="#39005a"/>
<rect x="323.3" y="450" width="18.33" height="24" fill="#3a0059"/>
<rect x="323.3" y="474" width="18.33" height="16" fill="#3b0058"/>
<rect x="323.3" y="490" width="18.33" height="8" fill="#3c0057"/>
<rect x="323.3" y="498" width="18.33" height="8" fill="#3c0056"/>
<rect x="323.3" y="506" width="18.33" height="8" fill="#3d0056"/>
<rect x="323.3" y="514" width="18.33" height="8" fill="#3e0055"/>
<rect x="323.3" y="522" width="18.33" height="8" fill="#380040"/>
<rect x="323.3" y="530" width="18.33" height="8" fill="#34003c"/>
<rect x="323.3" y="538" width="18.33" height="8" fill="#29002f"/>
<rect x="323.3" y="546" width="18.33" height="8" fill="#26002c"/>
<rect x="323.3" y="554" width="18.33" height="8" fill="#1d0021"/>
<rect x="323.3" y="562" width="18.33" height="8" fill="#1b001f"/>
<rect x="323.3" y="570" width="18.33" height="8" fill="#1a001e"/>
<rect x="323.3" y="578" width="18.33" height="8" fill="#18001c"/>
<rect x="323.3" y="586" width="18.33" height="8" fill="#17001a"/>
<rect x="323.3" y="594" width="18.33" height="8" fill="#150019"/>
<rect x="323.3" y="602" width="18.33" height="8" fill="#120015"/>
<rect x="323.3" y="610" width="18.33" height="8" fill="#110014"/>
<rect x="323.3" y="618" width="18.33" height="8" fill="#100012"/>
<rect x="323.3" y="626" width="18.33" height="8" fill="#0f0011"/>
<rect x="323.3" y="634" width="18.33" height="8" fill="#0e0010"/>
<rect x="323.3" y="642" width="18.33" height="8" fill="#0d000f"/>
<rect x="323.3" y="650" width="18.33" height="8" fill="#0d000e"/>
<rect x="323.3" y="658" width="18.33" height="8" fill="#0c000d"/>
<rect x="323.3" y="666" width="18.33" height="8" fill="#0b000c"/>
<rect x="323.3" y="674" width="18.33" height="144" fill="#000000"/>
<rect x="341.33" y="170" width="18.33" height="8" fill="#020002"/>
<rect x="341.33" y="178" width="18.33" height="16" fill="#030003"/>
<rect x="341.33" y="194" width="18.33" height="8" fill="#030004"/>
<rect x="341.33" y="202" width="18.33" height="8" fill="#040004"/>
<rect x="341.33" y="210" width="18.33" height="16" fill="#040005"/>
<rect x="341.33" y="226" width="18.33" height="8" fill="#050005"/>
<rect x="341.33" y="234" width="18.33" height="16" fill="#050006"/>
<rect x="341.33" y="250" width="18.33" height="8" fill="#060007"/>
<rect x="341.33" y="258" width="18.33" height="8" fill="#080009"/>
<rect x="341.33" y="266" width="18.33" height="8" fill="#0a000b"/>
<rect x="341.33" y="274" width="18.33" height="8" fill="#0c000e"/>
<rect x="341.33" y="282" width="18.33" height="8" fill="#0e0010"/>
<rect x="341.33" y="290" width="18.33" height="8" fill="#100012"/>
<rect x="341.33" y="298" width="18.33" height="8" fill="#120015"/>
<rect x="341.33" y="306" width="18.33" height="8" fill="#1e0023"/>
<rect x="341.33" y="314" width="18.33" height="8" fill="#2b0031"/>
<rect x="341.33" y="322" width="18.33" height="8" fill="#2f0035"/>
<rect x="341.33" y="330" width="18.33" height="8" fill="#320039"/>
<rect x="341.33" y="338" width="18.33" height="8" fill="#40004a"/>
<rect x="341.33" y="346" width="18.33" height="8" fill="#42004c"/>
<rect x="341.33" y="354" width="18.33" height="8" fill="#43004d"/>
<rect x="341.33" y="362" width="18.33" height="8" fill="#43004f"/>
<rect x="341.33" y="370" width="18.33" height="8" fill="#400052"/>
<rect x="341.33" y="378" width="18.33" height="8" fill="#3e0055"/>
<rect x="341.33" y="386" width="18.33" height="8" fill="#3b0044"/>
<rect x="341.33" y="394" width="18.33" height="8" fill="#3b0043"/>
<rect x="341.33" y="402" width="18.33" height="8" fill="#3a0043"/>
<rect x="341.33" y="410" width="18.33" height="16" fill="#390042"/>
<rect x="341.33" y="426" width="18.33" height="16" fill="#390041"/>
<rect x="341.33" y="442" width="18.33" height="8" fill="#380041"/>
<rect x="341.33" y="450" width="18.33" height="16" fill="#380040"/>
<rect x="341.33" y="466" width="18.33" height="8" fill="#370040"/>
<rect x="341.33" y="474" width="18.33" height="24" fill="#37003f"/>
<rect x="341.33" y="498" width="18.33" height="24" fill="#36003e"/>
<rect x="341.33" y="522" width="18.33" height="8" fill="#2a0030"/>
<rect x="341.33" y="530" width="18.33" height="8" fill="#27002d"/>
<rect x="341.33" y="538" width="18.33" height="8" fill="#1d0021"/>
<rect x="341.33" y="546" width="18.33" height="8" fill="#1b001f"/>
<rect x="341.33" y="554" width="18.33" height="8" fill="#1a001d"/>
<rect x="341.33" y="562" width="18.33" height="8" fill="#18001c"/>
<rect x="341.33" y="570" width="18.33" height="8" fill="#16001a"/>
<rect x="341.33" y="578" width="18.33" height="8" fill="#150018"/>
<rect x="341.33" y="586" width="18.33" height="8" fill="#130016"/>
<rect x="341.33" y="594" width="18.33" height="8" fill="#120015"/>
<rect x="341.33" y="602" width="18.33" height="8" fill="#0e0010"/>
<rect x="341.33" y="610" width="18.33" height="8" fill="#0d000f"/>
<rect x="341.33" y="618" width="18.33" height="8" fill="#0c000e"/>
<rect x="341.33" y="626" width="18.33" height="8" fill="#0b000d"/>
<rect x="341.33" y="634" width="18.33" height="8" fill="#0a000c"/>
<rect x="341.33" y="642" width="18.33" height="8" fill="#09000b"/>
<rect x="341.33" y="650" width="18.33" height="8" fill="#080009"/>
<rect x="341.33" y="658" width="18.33" height="8" fill="#070008"/>
<rect x="341.33" y="666" width="18.33" height="152" fill="#000000"/>
<rect x="359.36" y="170" width="18.33" height="8" fill="#010002"/>
<rect x="359.36" y="178" width="18.33" height="8" fill="#020002"/>
<rect x="359.36" y="186" width="18.33" height="8" fill="#020003"/>
<rect x="359.36" y="194" width="18.33" height="8" fill="#030003"/>
<rect x="359.36" y="202" width="18.33" height="8" fill="#030004"/>
<rect x="359.36" y="210" width="18.33" height="8" fill="#040004"/>
<rect x="359.36" y="218" width="18.33" height="16" fill="#040005"/>
<rect x="359.36" y="234" width="18.33" height="16" fill="#050006"/>
<rect x="359.36" y="250" width="18.33" height="8" fill="#060007"/>
<rect x="359.36" y="258" width="18.33" height="8" fill="#070008"/>
<rect x="359.36" y="266" width="18.33" height="8" fill="#09000a"/>
<rect x="359.36" y="274" width="18.33" height="8" fill="#0b000c"/>
<rect x="359.36" y="282" width="18.33" height="8" fill="#0d000f"/>
<rect x="359.36" y="290" width="18.33" height="8" fill="#100012"/>
<rect x="359.36" y="298" width="18.33" height="8" fill="#120015"/>
<rect x="359.36" y="306" width="18.33" height="8" fill="#17001b"/>
<rect x="359.36" y="314" width="18.33" height="8" fill="#1d0021"/>
<rect x="359.36" y="322" width="18.33" height="8" fill="#240029"/>
<rect x="359.36" y="330" width="18.33" height="8" fill="#2b0031"/>
<rect x="359.36" y="338" width="18.33" height="8" fill="#2c0033"/>
<rect x="359.36" y="346" width="18.33" height="8" fill="#2d0034"/>
<rect x="359.36" y="354" width="18.33" height="8" fill="#2f0035"/>
<rect x="359.36" y="362" width="18.33" height="8" fill="#300037"/>
<rect x="359.36" y="370" width="18.33" height="8" fill="#310038"/>
<rect x="359.36" y="378" width="18.33" height="8" fill="#320039"/>
<rect x="359.36" y="386" width="18.33" height="8" fill="#33003a"/>
<rect x="359.36" y="394" width="18.33" height="8" fill="#33003b"/>
<rect x="359.36" y="402" width="18.33" height="8" fill="#34003b"/>
<rect x="359.36" y="410" width="18.33" height="8" fill="#34003c"/>
<rect x="359.36" y="418" width="18.33" height="8" fill="#35003d"/>
<rect x="359.36" y="426" width="18.33" height="8" fill="#36003d"/>
<rect x="359.36" y="434" width="18.33" height="8" fill="#36003e"/>
<rect x="359.36" y="442" width="18.33" height="16" fill="#37003f"/>
<rect x="359.36" y="458" width="18.33" height="56" fill="#380040"/>
<rect x="359.36" y="514" width="18.33" height="8" fill="#35003c"/>
<rect x="359.36" y="522" width="18.33" height="8" fill="#320039"/>
<rect x="359.36" y="530" width="18.33" height="8" fill="#2f0035"/>
<rect x="359.36" y="538" width="18.33" height="8" fill="#2b0031"/>
<rect x="359.36" y="546" width="18.33" height="8" fill="#27002d"/>
<rect x="359.36" y="554" width="18.33" height="8" fill="#240029"/>
<rect x="359.36" y="562" width="18.33" height="8" fill="#220027"/>
<rect x="359.36" y="570" width="18.33" height="8" fill="#210026"/>
<rect x="359.36" y="578" width="18.33" height="8" fill="#1f0024"/>
<rect x="359.36" y="586" width="18.33" height="8" fill="#1e0022"/>
<rect x="359.36" y="594" width="18.33" height="8" fill="#1d0021"/>
<rect x="359.36" y="602" width="18.33" height="8" fill="#1b001f"/>
<rect x="359.36" y="610" width="18.33" height="8" fill="#19001c"/>
<rect x="359.36" y="618" width="18.33" height="8" fill="#17001a"/>
<rect x="359.36" y="626" width="18.33" height="8" fill="#150018"/>
<rect x="359.36" y="634" width="18.33" height="8" fill="#130015"/>
<rect x="359.36" y="642" width="18.33" height="8" fill="#110013"/>
<rect x="359.36" y="650" width="18.33" height="8" fill="#0f0011"/>
<rect x="359.36" y="658" width="18.33" height="8" fill="#0d000f"/>
<rect x="359.36" y="666" width="18.33" height="8" fill="#0b000c"/>
<rect x="359.36" y="674" width="18.33" height="144" fill="#000000"/>
<rect x="377.39" y="170" width="18.33" height="8" fill="#010002"/>
<rect x="377.39" y="178" width="18.33" height="16" fill="#020002"/>
<rect x="377.39" y="194" width="18.33" height="16" fill="#030003"/>
<rect x="377.39" y="210" width="18.33" height="8" fill="#030004"/>
<rect x="377.39" y="218" width="18.33" height="8" fill="#040004"/>
<rect x="377.39" y="226" width="18.33" height="16" fill="#040005"/>
<rect x="377.39" y="242" width="18.33" height="8" fill="#050005"/>
<rect x="377.39" y="250" width="18.33" height="16" fill="#050006"/>
<rect x="377.39" y="266" width="18.33" height="8" fill="#060007"/>
<rect x="377.39" y="274" width="18.33" height="8" fill="#080009"/>
<rect x="377.39" y="282" width="18.33" height="8" fill="#0b000c"/>
<rect x="377.39" y="290" width="18.33" height="8" fill="#0d000f"/>
<rect x="377.39" y="298" width="18.33" height="8" fill="#0f0012"/>
<rect x="377.39" y="306" width="18.33" height="8" fill="#120015"/>
<rect x="377.39" y="314" width="18.33" height="8" fill="#17001b"/>
<rect x="377.39" y="322" width="18.33" height="8" fill="#1d0021"/>
<rect x="377.39" y="330" width="18.33" height="8" fill="#1e0022"/>
<rect x="377.39" y="338" width="18.33" height="8" fill="#1f0023"/>
<rect x="377.39" y="346" width="18.33" height="8" fill="#200024"/>
<rect x="377.39" y="354" width="18.33" height="8" fill="#210026"/>
<rect x="377.39" y="362" width="18.33" height="8" fill="#220027"/>
<rect x="377.39" y="370" width="18.33" height="8" fill="#230028"/>
<rect x="377.39" y="378" width="18.33" height="8" fill="#240029"/>
<rect x="377.39" y="386" width="18.33" height="8" fill="#26002b"/>
<rect x="377.39" y="394" width="18.33" height="8" fill="#27002d"/>
<rect x="377.39" y="402" width="18.33" height="8" fill="#29002f"/>
<rect x="377.39" y="410" width="18.33" height="8" fill="#2b0031"/>
<rect x="377.39" y="418" width="18.33" height="8" fill="#2c0032"/>
<rect x="377.39" y="426" width="18.33" height="8" fill="#2d0033"/>
<rect x="377.39" y="434" width="18.33" height="8" fill="#2e0034"/>
<rect x="377.39" y="442" width="18.33" height="8" fill="#2f0035"/>
<rect x="377.39" y="450" width="18.33" height="8" fill="#300038"/>
<rect x="377.39" y="458" width="18.33" height="8" fill="#32003a"/>
<rect x="377.39" y="466" width="18.33" height="56" fill="#34003c"/>
<rect x="377.39" y="522" width="18.33" height="8" fill="#300037"/>
<rect x="377.39" y="530" width="18.33" height="8" fill="#2c0032"/>
<rect x="377.39" y="538" width="18.33" height="8" fill="#27002d"/>
<rect x="377.39" y="546" width="18.33" height="8" fill="#26002b"/>
<rect x="377.39" y="554" width="18.33" height="8" fill="#24002a"/>
<rect x="377.39" y="562" width="18.33" height="8" fill="#230028"/>
<rect x="377.39" y="570" width="18.33" height="8" fill="#210026"/>
<rect x="377.39" y="578" width="18.33" height="8" fill="#200024"/>
<rect x="377.39" y="586" width="18.33" height="8" fill="#1e0023"/>
<rect x="377.39" y="594" width="18.33" height="8" fill="#1d0021"/>
<rect x="377.39" y="602" width="18.33" height="8" fill="#1b001f"/>
<rect x="377.39" y="610" width="18.33" height="8" fill="#19001c"/>
<rect x="377.39" y="618" width="18.33" height="8" fill="#17001a"/>
<rect x="377.39" y="626" width="18.33" height="8" fill="#150018"/>
<rect x="377.39" y="634" width="18.33" height="8" fill="#130015"/>
<rect x="377.39" y="642" width="18.33" height="8" fill="#110013"/>
<rect x="377.39" y="650" width="18.33" height="8" fill="#0f0011"/>
<rect x="377.39" y="658" width="18.33" height="8" fill="#0d000f"/>
<rect x="377.39" y="666" width="18.33" height="8" fill="#0b000c"/>
<rect x="377.39" y="674" width="18.33" height="144" fill="#000000"/>
<rect x="395.42" y="170" width="18.33" height="8" fill="#010002"/>
<rect x="395.42" y="178" width="18.33" height="24" fill="#020002"/>
<rect x="395.42" y="202" width="18.33" height="16" fill="#020003"/>
<rect x="395.42" y="218" width="18.33" height="16" fill="#030003"/>
<rect x="395.42" y="234" width="18.33" height="24" fill="#030004"/>
<rect x="395.42" y="258" width="18.33" height="16" fill="#040004"/>
<rect x="395.42" y="274" width="18.33" height="16" fill="#040005"/>
<rect x="395.42" y="290" width="18.33" height="8" fill="#070008"/>
<rect x="395.42" y="298" width="18.33" height="8" fill="#09000b"/>
<rect x="395.42" y="306" width="18.33" height="8" fill="#0c000e"/>
<rect x="395.42" y="314" width="18.33" height="8" fill="#0e0010"/>
<rect x="395.42" y="322" width="18.33" height="8" fill="#120015"/>
<rect x="395.42" y="330" width="18.33" height="8" fill="#150019"/>
<rect x="395.42" y="338" width="18.33" height="8" fill="#17001a"/>
<rect x="395.42" y="346" width="18.33" height="8" fill="#18001b"/>
<rect x="395.42" y="354" width="18.33" height="8" fill="#19001d"/>
<rect x="395.42" y="362" width="18.33" height="8" fill="#1a001e"/>
<rect x="395.42" y="370" width="18.33" height="8" fill="#1b001f"/>
<rect x="395.42" y="378" width="18.33" height="8" fill="#1d0021"/>
<rect x="395.42" y="386" width="18.33" height="8" fill="#1e0023"/>
<rect x="395.42" y="394" width="18.33" height="8" fill="#200025"/>
<rect x="395.42" y="402" width="18.33" height="8" fill="#220027"/>
<rect x="395.42" y="410" width="18.33" height="8" fill="#240029"/>
<rect x="395.42" y="418" width="18.33" height="8" fill="#25002a"/>
<rect x="395.42" y="426" width="18.33" height="8" fill="#26002b"/>
<rect x="395.42" y="434" width="18.33" height="8" fill="#26002c"/>
<rect x="395.42" y="442" width="18.33" height="8" fill="#27002d"/>
<rect x="395.42" y="450" width="18.33" height="8" fill="#2a0031"/>
<rect x="395.42" y="458" width="18.33" height="8" fill="#2e0034"/>
<rect x="395.42" y="466" width="18.33" height="56" fill="#310038"/>
<rect x="395.42" y="522" width="18.33" height="8" fill="#2c0033"/>
<rect x="395.42" y="530" width="18.33" height="8" fill="#28002e"/>
<rect x="395.42" y="538" width="18.33" height="8" fill="#240029"/>
<rect x="395.42" y="546" width="18.33" height="8" fill="#220027"/>
<rect x="395.42" y="554" width="18.33" height="8" fill="#210026"/>
<rect x="395.42" y="562" width="18.33" height="8" fill="#1f0024"/>
<rect x="395.42" y="570" width="18.33" height="8" fill="#1e0022"/>
<rect x="395.42" y="578" width="18.33" height="8" fill="#1c0020"/>
<rect x="395.42" y="586" width="18.33" height="8" fill="#1b001e"/>
<rect x="395.42" y="594" width="18.33" height="8" fill="#19001d"/>
<rect x="395.42" y="602" width="18.33" height="8" fill="#18001b"/>
<rect x="395.42" y="610" width="18.33" height="8" fill="#16001a"/>
<rect x="395.42" y="618" width="18.33" height="8" fill="#150018"/>
<rect x="395.42" y="626" width="18.33" height="8" fill="#140017"/>
<rect x="395.42" y="634" width="18.33" height="8" fill="#130015"/>
<rect x="395.42" y="642" width="18.33" height="8" fill="#110014"/>
<rect x="395.42" y="650" width="18.33" height="8" fill="#100012"/>
<rect x="395.42" y="658" width="18.33" height="8" fill="#0f0011"/>
<rect x="395.42" y="666" width="18.33" height="8" fill="#0d000f"/>
<rect x="395.42" y="674" width="18.33" height="8" fill="#0c000e"/>
<rect x="395.42" y="682" width="18.33" height="8" fill="#0b000c"/>
<rect x="395.42" y="690" width="18.33" height="128" fill="#000000"/>
<rect x="413.45" y="170" width="18.33" height="8" fill="#010002"/>
<rect x="413.45" y="178" width="18.33" height="40" fill="#020002"/>
<rect x="413.45" y="218" width="18.33" height="16" fill="#020003"/>
<rect x="413.45" y="234" width="18.33" height="32" fill="#030003"/>
<rect x="413.45" y="266" width="18.33" height="24" fill="#030004"/>
<rect x="413.45" y="290" width="18.33" height="8" fill="#040004"/>
<rect x="413.45" y="298" width="18.33" height="8" fill="#050006"/>
<rect x="413.45" y="306" width="18.33" height="8" fill="#060007"/>
<rect x="413.45" y="314" width="18.33" height="8" fill="#070008"/>
<rect x="413.45" y="322" width="18.33" height="8" fill="#09000a"/>
<rect x="413.45" y="330" width="18.33" height="8" fill="#0b000d"/>
<rect x="413.45" y="338" width="18.33" height="8" fill="#0e0010"/>
<rect x="413.45" y="346" width="18.33" height="8" fill="#100012"/>
<rect x="413.45" y="354" width="18.33" height="8" fill="#110014"/>
<rect x="413.45" y="362" width="18.33" height="8" fill="#130015"/>
<rect x="413.45" y="370" width="18.33" height="8" fill="#140017"/>
<rect x="413.45" y="378" width="18.33" height="8" fill="#150019"/>
<rect x="413.45" y="386" width="18.33" height="8" fill="#1a001e"/>
<rect x="413.45" y="394" width="18.33" height="8" fill="#1f0023"/>
<rect x="413.45" y="402" width="18.33" height="8" fill="#1f0024"/>
<rect x="413.45" y="410" width="18.33" height="8" fill="#200025"/>
<rect x="413.45" y="418" width="18.33" height="8" fill="#210026"/>
<rect x="413.45" y="426" width="18.33" height="16" fill="#220027"/>
<rect x="413.45" y="442" width="18.33" height="8" fill="#26002c"/>
<rect x="413.45" y="450" width="18.33" height="8" fill="#2a0031"/>
<rect x="413.45" y="458" width="18.33" height="8" fill="#2f0035"/>
<rect x="413.45" y="466" width="18.33" height="24" fill="#2f0036"/>
<rect x="413.45" y="490" width="18.33" height="24" fill="#300037"/>
<rect x="413.45" y="514" width="18.33" height="8" fill="#310038"/>
<rect x="413.45" y="522" width="18.33" height="8" fill="#2b0032"/>
<rect x="413.45" y="530" width="18.33" height="8" fill="#26002b"/>
<rect x="413.45" y="538" width="18.33" height="8" fill="#200025"/>
<rect x="413.45" y="546" width="18.33" height="8" fill="#1f0023"/>
<rect x="413.45" y="554" width="18.33" height="8" fill="#1d0021"/>
<rect x="413.45" y="562" width="18.33" height="8" fill="#1c0020"/>
<rect x="413.45" y="570" width="18.33" height="8" fill="#1a001e"/>
<rect x="413.45" y="578" width="18.33" height="8" fill="#19001c"/>
<rect x="413.45" y="586" width="18.33" height="8" fill="#17001a"/>
<rect x="413.45" y="594" width="18.33" height="8" fill="#150019"/>
<rect x="413.45" y="602" width="18.33" height="8" fill="#140018"/>
<rect x="413.45" y="610" width="18.33" height="8" fill="#140016"/>
<rect x="413.45" y="618" width="18.33" height="8" fill="#130015"/>
<rect x="413.45" y="626" width="18.33" height="8" fill="#120014"/>
<rect x="413.45" y="634" width="18.33" height="8" fill="#110013"/>
<rect x="413.45" y="642" width="18.33" height="8" fill="#100012"/>
<rect x="413.45" y="650" width="18.33" height="8" fill="#0f0011"/>
<rect x="413.45" y="658" width="18.33" height="8" fill="#0e0010"/>
<rect x="413.45" y="666" width="18.33" height="8" fill="#0d000f"/>
<rect x="413.45" y="674" width="18.33" height="8" fill="#0c000d"/>
<rect x="413.45" y="682" width="18.33" height="8" fill="#0b000c"/>
<rect x="413.45" y="690" width="18.33" height="128" fill="#000000"/>
<rect x="431.48" y="170" width="18.33" height="8" fill="#010002"/>
<rect x="431.48" y="178" width="18.33" height="24" fill="#020002"/>
<rect x="431.48" y="202" width="18.33" height="8" fill="#020003"/>
<rect x="431.48" y="210" width="18.33" height="24" fill="#030003"/>
<rect x="431.48" y="234" width="18.33" height="16" fill="#030004"/>
<rect x="431.48" y="250" width="18.33" height="16" fill="#040004"/>
<rect x="431.48" y="266" width="18.33" height="16" fill="#040005"/>
<rect x="431.48" y="282" width="18.33" height="8" fill="#050005"/>
<rect x="431.48" y="290" width="18.33" height="24" fill="#050006"/>
<rect x="431.48" y="314" width="18.33" height="8" fill="#060006"/>
<rect x="431.48" y="322" width="18.33" height="8" fill="#060007"/>
<rect x="431.48" y="330" width="18.33" height="8" fill="#080009"/>
<rect x="431.48" y="338" width="18.33" height="8" fill="#0b000c"/>
<rect x="431.48" y="346" width="18.33" height="8" fill="#0c000d"/>
<rect x="431.48" y="354" width="18.33" height="8" fill="#0d000f"/>
<rect x="431.48" y="362" width="18.33" height="8" fill="#0e0010"/>
<rect x="431.48" y="370" width="18.33" height="8" fill="#0f0011"/>
<rect x="431.48" y="378" width="18.33" height="8" fill="#100012"/>
<rect x="431.48" y="386" width="18.33" height="8" fill="#150019"/>
<rect x="431.48" y="394" width="18.33" height="8" fill="#1b001f"/>
<rect x="431.48" y="402" width="18.33" height="8" fill="#1c0020"/>
<rect x="431.48" y="410" width="18.33" height="8" fill="#1d0021"/>
<rect x="431.48" y="418" width="18.33" height="8" fill="#1e0022"/>
<rect x="431.48" y="426" width="18.33" height="8" fill="#1f0023"/>
<rect x="431.48" y="434" width="18.33" height="8" fill="#230028"/>
<rect x="431.48" y="442" width="18.33" height="8" fill="#27002d"/>
<rect x="431.48" y="450" width="18.33" height="8" fill="#2b0031"/>
<rect x="431.48" y="458" width="18.33" height="8" fill="#2c0032"/>
<rect x="431.48" y="466" width="18.33" height="8" fill="#2c0033"/>
<rect x="431.48" y="474" width="18.33" height="8" fill="#2d0034"/>
<rect x="431.48" y="482" width="18.33" height="8" fill="#2e0035"/>
<rect x="431.48" y="490" width="18.33" height="8" fill="#2f0035"/>
<rect x="431.48" y="498" width="18.33" height="8" fill="#2f0036"/>
<rect x="431.48" y="506" width="18.33" height="8" fill="#300037"/>
<rect x="431.48" y="514" width="18.33" height="8" fill="#310038"/>
<rect x="431.48" y="522" width="18.33" height="8" fill="#2b0032"/>
<rect x="431.48" y="530" width="18.33" height="8" fill="#26002b"/>
<rect x="431.48" y="538" width="18.33" height="8" fill="#200025"/>
<rect x="431.48" y="546" width="18.33" height="8" fill="#1f0023"/>
<rect x="431.48" y="554" width="18.33" height="8" fill="#1d0021"/>
<rect x="431.48" y="562" width="18.33" height="8" fill="#1c0020"/>
<rect x="431.48" y="570" width="18.33" height="8" fill="#1a001e"/>
<rect x="431.48" y="578" width="18.33" height="8" fill="#19001c"/>
<rect x="431.48" y="586" width="18.33" height="8" fill="#17001a"/>
<rect x="431.48" y="594" width="18.33" height="8" fill="#150019"/>
<rect x="431.48" y="602" width="18.33" height="8" fill="#140018"/>
<rect x="431.48" y="610" width="18.33" height="8" fill="#140016"/>
<rect x="431.48" y="618" width="18.33" height="8" fill="#130015"/>
<rect x="431.48" y="626" width="18.33" height="8" fill="#120014"/>
<rect x="431.48" y="634" width="18.33" height="8" fill="#110013"/>
<rect x="431.48" y="642" width="18.33" height="8" fill="#100012"/>
<rect x="431.48" y="650" width="18.33" height="8" fill="#0f0011"/>
<rect x="431.48" y="658" width="18.33" height="8" fill="#0e0010"/>
<rect x="431.48" y="666" width="18.33" height="8" fill="#0d000f"/>
<rect x="431.48" y="674" width="18.33" height="8" fill="#0c000d"/>
<rect x="431.48" y="682" width="18.33" height="8" fill="#0b000c"/>
<rect x="431.48" y="690" width="18.33" height="128" fill="#000000"/>
<rect x="449.51" y="170" width="18.33" height="8" fill="#020002"/>
<rect x="449.51" y="178" width="18.33" height="8" fill="#020003"/>
<rect x="449.51" y="186" width="18.33" height="16" fill="#030003"/>
<rect x="449.51" y="202" width="18.33" height="16" fill="#030004"/>
<rect x="449.51" y="218" width="18.33" height="8" fill="#040004"/>
<rect x="449.51" y="226" width="18.33" height="16" fill="#040005"/>
<rect x="449.51" y="242" width="18.33" height="16" fill="#050005"/>
<rect x="449.51" y="258" width="18.33" height="16" fill="#050006"/>
<rect x="449.51" y="274" width="18.33" height="8" fill="#060006"/>
<rect x="449.51" y="282" width="18.33" height="24" fill="#060007"/>
<rect x="449.51" y="306" width="18.33" height="24" fill="#070008"/>
<rect x="449.51" y="330" width="18.33" height="8" fill="#080009"/>
<rect x="449.51" y="338" width="18.33" height="8" fill="#09000a"/>
<rect x="449.51" y="346" width="18.33" height="8" fill="#0a000b"/>
<rect x="449.51" y="354" width="18.33" height="8" fill="#0a000c"/>
<rect x="449.51" y="362" width="18.33" height="8" fill="#0b000d"/>
<rect x="449.51" y="370" width="18.33" height="8" fill="#0c000e"/>
<rect x="449.51" y="378" width="18.33" height="8" fill="#0d000f"/>
<rect x="449.51" y="386" width="18.33" height="8" fill="#140017"/>
<rect x="449.51" y="394" width="18.33" height="8" fill="#1b001f"/>
<rect x="449.51" y="402" width="18.33" height="8" fill="#1c0020"/>
<rect x="449.51" y="410" width="18.33" height="8" fill="#1d0021"/>
<rect x="449.51" y="418" width="18.33" height="8" fill="#1e0022"/>
<rect x="449.51" y="426" width="18.33" height="8" fill="#1f0023"/>
<rect x="449.51" y="434" width="18.33" height="8" fill="#230028"/>
<rect x="449.51" y="442" width="18.33" height="8" fill="#27002d"/>
<rect x="449.51" y="450" width="18.33" height="8" fill="#2b0031"/>
<rect x="449.51" y="458" width="18.33" height="8" fill="#2c0032"/>
<rect x="449.51" y="466" width="18.33" height="8" fill="#2c0033"/>
<rect x="449.51" y="474" width="18.33" height="8" fill="#2d0033"/>
<rect x="449.51" y="482" width="18.33" height="8" fill="#2d0034"/>
<rect x="449.51" y="490" width="18.33" height="16" fill="#2e0035"/>
<rect x="449.51" y="506" width="18.33" height="8" fill="#2f0036"/>
<rect x="449.51" y="514" width="18.33" height="16" fill="#300037"/>
<rect x="449.51" y="530" width="18.33" height="8" fill="#310038"/>
<rect x="449.51" y="538" width="18.33" height="8" fill="#2c0033"/>
<rect x="449.51" y="546" width="18.33" height="8" fill="#28002e"/>
<rect x="449.51" y="554" width="18.33" height="8" fill="#240029"/>
<rect x="449.51" y="562" width="18.33" height="8" fill="#220027"/>
<rect x="449.51" y="570" width="18.33" height="8" fill="#210026"/>
<rect x="449.51" y="578" width="18.33" height="8" fill="#1f0024"/>
<rect x="449.51" y="586" width="18.33" height="8" fill="#1e0022"/>
<rect x="449.51" y="594" width="18.33" height="8" fill="#1d0021"/>
<rect x="449.51" y="602" width="18.33" height="8" fill="#1c0021"/>
<rect x="449.51" y="610" width="18.33" height="24" fill="#1c0020"/>
<rect x="449.51" y="634" width="18.33" height="24" fill="#1b001f"/>
<rect x="449.51" y="658" width="18.33" height="8" fill="#1b001e"/>
<rect x="449.51" y="666" width="18.33" height="24" fill="#1a001e"/>
<rect x="449.51" y="690" width="18.33" height="8" fill="#1a001d"/>
<rect x="449.51" y="698" width="18.33" height="16" fill="#19001d"/>
<rect x="449.51" y="714" width="18.33" height="104" fill="#000000"/>
<rect x="467.54" y="170" width="18.33" height="8" fill="#0b000c"/>
<rect x="467.54" y="178" width="18.33" height="16" fill="#0b000d"/>
<rect x="467.54" y="194" width="18.33" height="16" fill="#0c000d"/>
<rect x="467.54" y="210" width="18.33" height="16" fill="#0c000e"/>
<rect x="467.54" y="226" width="18.33" height="8" fill="#0d000e"/>
<rect x="467.54" y="234" width="18.33" height="24" fill="#0d000f"/>
<rect x="467.54" y="258" width="18.33" height="32" fill="#0e0010"/>
<rect x="467.54" y="290" width="18.33" height="8" fill="#100012"/>
<rect x="467.54" y="298" width="18.33" height="8" fill="#110013"/>
<rect x="467.54" y="306" width="18.33" height="8" fill="#120015"/>
<rect x="467.54" y="314" width="18.33" height="8" fill="#130016"/>
<rect x="467.54" y="322" width="18.33" height="8" fill="#140017"/>
<rect x="467.54" y="330" width="18.33" height="8" fill="#150019"/>
<rect x="467.54" y="338" width="18.33" height="8" fill="#17001a"/>
<rect x="467.54" y="346" width="18.33" height="8" fill="#18001b"/>
<rect x="467.54" y="354" width="18.33" height="8" fill="#19001d"/>
<rect x="467.54" y="362" width="18.33" height="8" fill="#1a001e"/>
<rect x="467.54" y="370" width="18.33" height="8" fill="#1b001f"/>
<rect x="467.54" y="378" width="18.33" height="8" fill="#1d0021"/>
<rect x="467.54" y="386" width="18.33" height="8" fill="#200025"/>
<rect x="467.54" y="394" width="18.33" height="8" fill="#2b0031"/>
<rect x="467.54" y="402" width="18.33" height="8" fill="#2c0032"/>
<rect x="467.54" y="410" width="18.33" height="8" fill="#2c0033"/>
<rect x="467.54" y="418" width="18.33" height="8" fill="#2d0033"/>
<rect x="467.54" y="426" width="18.33" height="8" fill="#2d0034"/>
<rect x="467.54" y="434" width="18.33" height="8" fill="#2e0035"/>
<rect x="467.54" y="442" width="18.33" height="8" fill="#2f0035"/>
<rect x="467.54" y="450" width="18.33" height="8" fill="#2f0036"/>
<rect x="467.54" y="458" width="18.33" height="16" fill="#300037"/>
<rect x="467.54" y="474" width="18.33" height="8" fill="#310038"/>
<rect x="467.54" y="482" width="18.33" height="16" fill="#320039"/>
<rect x="467.54" y="498" width="18.33" height="80" fill="#3d0046"/>
<rect x="467.54" y="578" width="18.33" height="24" fill="#320039"/>
<rect x="467.54" y="602" width="18.33" height="8" fill="#2b0031"/>
<rect x="467.54" y="610" width="18.33" height="8" fill="#2a0031"/>
<rect x="467.54" y="618" width="18.33" height="16" fill="#2a0030"/>
<rect x="467.54" y="634" width="18.33" height="16" fill="#29002f"/>
<rect x="467.54" y="650" width="18.33" height="8" fill="#28002e"/>
<rect x="467.54" y="658" width="18.33" height="8" fill="#28002d"/>
<rect x="467.54" y="666" width="18.33" height="8" fill="#27002d"/>
<rect x="467.54" y="674" width="18.33" height="8" fill="#27002c"/>
<rect x="467.54" y="682" width="18.33" height="8" fill="#26002c"/>
<rect x="467.54" y="690" width="18.33" height="8" fill="#26002b"/>
<rect x="467.54" y="698" width="18.33" height="8" fill="#25002b"/>
<rect x="467.54" y="706" width="18.33" height="8" fill="#25002a"/>
<rect x="467.54" y="714" width="18.33" height="8" fill="#24002a"/>
<rect x="467.54" y="722" width="18.33" height="8" fill="#240029"/>
<rect x="467.54" y="730" width="18.33" height="88" fill="#0b000c"/>
<rect x="485.57" y="170" width="18.33" height="24" fill="#0b000c"/>
<rect x="485.57" y="194" width="18.33" height="8" fill="#200025"/>
<rect x="485.57" y="202" width="18.33" height="8" fill="#210025"/>
<rect x="485.57" y="210" width="18.33" height="24" fill="#210026"/>
<rect x="485.57" y="234" width="18.33" height="24" fill="#220027"/>
<rect x="485.57" y="258" width="18.33" height="24" fill="#230028"/>
<rect x="485.57" y="282" width="18.33" height="8" fill="#230029"/>
<rect x="485.57" y="290" width="18.33" height="16" fill="#240029"/>
<rect x="485.57" y="306" width="18.33" height="8" fill="#24002a"/>
<rect x="485.57" y="314" width="18.33" height="16" fill="#25002a"/>
<rect x="485.57" y="330" width="18.33" height="8" fill="#25002b"/>
<rect x="485.57" y="338" width="18.33" height="16" fill="#26002b"/>
<rect x="485.57" y="354" width="18.33" height="16" fill="#26002c"/>
<rect x="485.57" y="370" width="18.33" height="8" fill="#27002c"/>
<rect x="485.57" y="378" width="18.33" height="16" fill="#27002d"/>
<rect x="485.57" y="394" width="18.33" height="8" fill="#29002f"/>
<rect x="485.57" y="402" width="18.33" height="8" fill="#2b0031"/>
<rect x="485.57" y="410" width="18.33" height="8" fill="#36003e"/>
<rect x="485.57" y="418" width="18.33" height="8" fill="#3a0043"/>
<rect x="485.57" y="426" width="18.33" height="8" fill="#3e0047"/>
<rect x="485.57" y="434" width="18.33" height="8" fill="#3f0049"/>
<rect x="485.57" y="442" width="18.33" height="8" fill="#41004a"/>
<rect x="485.57" y="450" width="18.33" height="8" fill="#42004c"/>
<rect x="485.57" y="458" width="18.33" height="16" fill="#3a0059"/>
<rect x="485.57" y="474" width="18.33" height="8" fill="#39005a"/>
<rect x="485.57" y="482" width="18.33" height="8" fill="#39005b"/>
<rect x="485.57" y="490" width="18.33" height="8" fill="#38005b"/>
<rect x="485.57" y="498" width="18.33" height="8" fill="#37005c"/>
<rect x="485.57" y="506" width="18.33" height="8" fill="#37005d"/>
<rect x="485.57" y="514" width="18.33" height="8" fill="#34005f"/>
<rect x="485.57" y="522" width="18.33" height="8" fill="#340060"/>
<rect x="485.57" y="530" width="18.33" height="8" fill="#330061"/>
<rect x="485.57" y="538" width="18.33" height="16" fill="#320062"/>
<rect x="485.57" y="554" width="18.33" height="16" fill="#310063"/>
<rect x="485.57" y="570" width="18.33" height="8" fill="#300064"/>
<rect x="485.57" y="578" width="18.33" height="8" fill="#420051"/>
<rect x="485.57" y="586" width="18.33" height="8" fill="#43004d"/>
<rect x="485.57" y="594" width="18.33" height="16" fill="#40004a"/>
<rect x="485.57" y="610" width="18.33" height="8" fill="#400049"/>
<rect x="485.57" y="618" width="18.33" height="8" fill="#3f0048"/>
<rect x="485.57" y="626" width="18.33" height="8" fill="#3e0047"/>
<rect x="485.57" y="634" width="18.33" height="8" fill="#3d0046"/>
<rect x="485.57" y="642" width="18.33" height="8" fill="#3c0045"/>
<rect x="485.57" y="650" width="18.33" height="8" fill="#3b0044"/>
<rect x="485.57" y="658" width="18.33" height="8" fill="#3a0043"/>
<rect x="485.57" y="666" width="18.33" height="8" fill="#390042"/>
<rect x="485.57" y="674" width="18.33" height="8" fill="#380041"/>
<rect x="485.57" y="682" width="18.33" height="8" fill="#370040"/>
<rect x="485.57" y="690" width="18.33" height="8" fill="#37003f"/>
<rect x="485.57" y="698" width="18.33" height="8" fill="#36003e"/>
<rect x="485.57" y="706" width="18.33" height="8" fill="#35003d"/>
<rect x="485.57" y="714" width="18.33" height="8" fill="#34003c"/>
<rect x="485.57" y="722" width="18.33" height="8" fill="#33003a"/>
<rect x="485.57" y="730" width="18.33" height="8" fill="#320039"/>
<rect x="485.57" y="738" width="18.33" height="80" fill="#0b000c"/>
<rect x="503.6" y="170" width="18.33" height="32" fill="#0b000c"/>
<rect x="503.6" y="202" width="18.33" height="8" fill="#2f0035"/>
<rect x="503.6" y="210" width="18.33" height="8" fill="#2f0036"/>
<rect x="503.6" y="218" width="18.33" height="8" fill="#300037"/>
<rect x="503.6" y="226" width="18.33" height="8" fill="#300038"/>
<rect x="503.6" y="234" width="18.33" height="8" fill="#310038"/>
<rect x="503.6" y="242" width="18.33" height="8" fill="#320039"/>
<rect x="503.6" y="250" width="18.33" height="8" fill="#32003a"/>
<rect x="503.6" y="258" width="18.33" height="8" fill="#33003b"/>
<rect x="503.6" y="266" width="18.33" height="8" fill="#34003b"/>
<rect x="503.6" y="274" width="18.33" height="8" fill="#34003c"/>
<rect x="503.6" y="282" width="18.33" height="8" fill="#35003d"/>
<rect x="503.6" y="290" width="18.33" height="8" fill="#36003e"/>
<rect x="503.6" y="298" width="18.33" height="8" fill="#37003f"/>
<rect x="503.6" y="306" width="18.33" height="8" fill="#380040"/>
<rect x="503.6" y="314" width="18.33" height="8" fill="#390042"/>
<rect x="503.6" y="322" width="18.33" height="8" fill="#3a0043"/>
<rect x="503.6" y="330" width="18.33" height="8" fill="#3c0044"/>
<rect x="503.6" y="338" width="18.33" height="8" fill="#3d0046"/>
<rect x="503.6" y="346" width="18.33" height="8" fill="#3e0047"/>
<rect x="503.6" y="354" width="18.33" height="8" fill="#3f0049"/>
<rect x="503.6" y="362" width="18.33" height="8" fill="#40004a"/>
<rect x="503.6" y="370" width="18.33" height="8" fill="#44004e"/>
<rect x="503.6" y="378" width="18.33" height="8" fill="#3e0055"/>
<rect x="503.6" y="386" width="18.33" height="8" fill="#35005f"/>
<rect x="503.6" y="394" width="18.33" height="8" fill="#2e0066"/>
<rect x="503.6" y="402" width="18.33" height="8" fill="#2a006a"/>
<rect x="503.6" y="410" width="18.33" height="8" fill="#26006e"/>
<rect x="503.6" y="418" width="18.33" height="16" fill="#1e0076"/>
<rect x="503.6" y="434" width="18.33" height="16" fill="#1d0077"/>
<rect x="503.6" y="450" width="18.33" height="16" fill="#1c0078"/>
<rect x="503.6" y="466" width="18.33" height="16" fill="#1b0079"/>
<rect x="503.6" y="482" width="18.33" height="16" fill="#1a007a"/>
<rect x="503.6" y="498" width="18.33" height="40" fill="#1c0078"/>
<rect x="503.6" y="538" width="18.33" height="32" fill="#1d0077"/>
<rect x="503.6" y="570" width="18.33" height="24" fill="#1e0076"/>
<rect x="503.6" y="594" width="18.33" height="8" fill="#220072"/>
<rect x="503.6" y="602" width="18.33" height="8" fill="#240070"/>
<rect x="503.6" y="610" width="18.33" height="8" fill="#26006e"/>
<rect x="503.6" y="618" width="18.33" height="8" fill="#28006c"/>
<rect x="503.6" y="626" width="18.33" height="8" fill="#2c0068"/>
<rect x="503.6" y="634" width="18.33" height="8" fill="#2f0065"/>
<rect x="503.6" y="642" width="18.33" height="8" fill="#320062"/>
<rect x="503.6" y="650" width="18.33" height="8" fill="#3e0055"/>
<rect x="503.6" y="658" width="18.33" height="8" fill="#400053"/>
<rect x="503.6" y="666" width="18.33" height="8" fill="#410051"/>
<rect x="503.6" y="674" width="18.33" height="8" fill="#420050"/>
<rect x="503.6" y="682" width="18.33" height="8" fill="#44004e"/>
<rect x="503.6" y="690" width="18.33" height="8" fill="#43004d"/>
<rect x="503.6" y="698" width="18.33" height="8" fill="#42004c"/>
<rect x="503.6" y="706" width="18.33" height="8" fill="#41004b"/>
<rect x="503.6" y="714" width="18.33" height="8" fill="#40004a"/>
<rect x="503.6" y="722" width="18.33" height="8" fill="#400049"/>
<rect x="503.6" y="730" width="18.33" height="8" fill="#3f0048"/>
<rect x="503.6" y="738" width="18.33" height="8" fill="#3e0047"/>
<rect x="503.6" y="746" width="18.33" height="8" fill="#3d0046"/>
<rect x="503.6" y="754" width="18.33" height="64" fill="#0b000c"/>
<rect x="521.63" y="170" width="18.33" height="48" fill="#0b000c"/>
<rect x="521.63" y="218" width="18.33" height="8" fill="#390042"/>
<rect x="521.63" y="226" width="18.33" height="8" fill="#3a0043"/>
<rect x="521.63" y="234" width="18.33" height="8" fill="#3c0044"/>
<rect x="521.63" y="242" width="18.33" height="8" fill="#3d0046"/>
<rect x="521.63" y="250" width="18.33" height="8" fill="#3e0047"/>
<rect x="521.63" y="258" width="18.33" height="8" fill="#3f0049"/>
<rect x="521.63" y="266" width="18.33" height="8" fill="#40004a"/>
<rect x="521.63" y="274" width="18.33" height="8" fill="#42004b"/>
<rect x="521.63" y="282" width="18.33" height="8" fill="#43004d"/>
<rect x="521.63" y="290" width="18.33" height="8" fill="#44004e"/>
<rect x="521.63" y="298" width="18.33" height="8" fill="#410051"/>
<rect x="521.63" y="306" width="18.33" height="8" fill="#3e0055"/>
<rect x="521.63" y="314" width="18.33" height="8" fill="#3b0058"/>
<rect x="521.63" y="322" width="18.33" height="8" fill="#38005b"/>
<rect x="521.63" y="330" width="18.33" height="8" fill="#340060"/>
<rect x="521.63" y="338" width="18.33" height="8" fill="#300064"/>
<rect x="521.63" y="346" width="18.33" height="8" fill="#2d0067"/>
<rect x="521.63" y="354" width="18.33" height="8" fill="#2b0069"/>
<rect x="521.63" y="362" width="18.33" height="8" fill="#28006c"/>
<rect x="521.63" y="370" width="18.33" height="8" fill="#25006f"/>
<rect x="521.63" y="378" width="18.33" height="8" fill="#220072"/>
<rect x="521.63" y="386" width="18.33" height="8" fill="#110083"/>
<rect x="521.63" y="394" width="18.33" height="8" fill="#0f0086"/>
<rect x="521.63" y="402" width="18.33" height="8" fill="#0d0088"/>
<rect x="521.63" y="410" width="18.33" height="8" fill="#0b008a"/>
<rect x="521.63" y="418" width="18.33" height="8" fill="#020094"/>
<rect x="521.63" y="426" width="18.33" height="8" fill="#010094"/>
<rect x="521.63" y="434" width="18.33" height="24" fill="#010095"/>
<rect x="521.63" y="458" width="18.33" height="8" fill="#000095"/>
<rect x="521.63" y="466" width="18.33" height="16" fill="#000096"/>
<rect x="521.63" y="482" width="18.33" height="8" fill="#000095"/>
<rect x="521.63" y="490" width="18.33" height="8" fill="#000195"/>
<rect x="521.63" y="498" width="18.33" height="8" fill="#000194"/>
<rect x="521.63" y="506" width="18.33" height="8" fill="#000294"/>
<rect x="521.63" y="514" width="18.33" height="8" fill="#000293"/>
<rect x="521.63" y="522" width="18.33" height="8" fill="#000393"/>
<rect x="521.63" y="530" width="18.33" height="8" fill="#000392"/>
<rect x="521.63" y="538" width="18.33" height="8" fill="#000294"/>
<rect x="521.63" y="546" width="18.33" height="8" fill="#000096"/>
<rect x="521.63" y="554" width="18.33" height="16" fill="#010095"/>
<rect x="521.63" y="570" width="18.33" height="8" fill="#020094"/>
<rect x="521.63" y="578" width="18.33" height="8" fill="#030093"/>
<rect x="521.63" y="586" width="18.33" height="8" fill="#040092"/>
<rect x="521.63" y="594" width="18.33" height="8" fill="#040091"/>
<rect x="521.63" y="602" width="18.33" height="8" fill="#09008d"/>
<rect x="521.63" y="610" width="18.33" height="8" fill="#110083"/>
<rect x="521.63" y="618" width="18.33" height="8" fill="#140080"/>
<rect x="521.63" y="626" width="18.33" height="8" fill="#17007d"/>
<rect x="521.63" y="634" width="18.33" height="8" fill="#1e0076"/>
<rect x="521.63" y="642" width="18.33" height="8" fill="#200074"/>
<rect x="521.63" y="650" width="18.33" height="8" fill="#220072"/>
<rect x="521.63" y="658" width="18.33" height="8" fill="#2a006a"/>
<rect x="521.63" y="666" width="18.33" height="8" fill="#2c0068"/>
<rect x="521.63" y="674" width="18.33" height="8" fill="#2e0066"/>
<rect x="521.63" y="682" width="18.33" height="8" fill="#300064"/>
<rect x="521.63" y="690" width="18.33" height="8" fill="#36005e"/>
<rect x="521.63" y="698" width="18.33" height="8" fill="#37005c"/>
<rect x="521.63" y="706" width="18.33" height="8" fill="#39005b"/>
<rect x="521.63" y="714" width="18.33" height="8" fill="#3a0059"/>
<rect x="521.63" y="722" width="18.33" height="8" fill="#3c0057"/>
<rect x="521.63" y="730" width="18.33" height="8" fill="#3e0055"/>
<rect x="521.63" y="738" width="18.33" height="8" fill="#400053"/>
<rect x="521.63" y="746" width="18.33" height="8" fill="#420050"/>
<rect x="521.63" y="754" width="18.33" height="8" fill="#44004e"/>
<rect x="521.63" y="762" width="18.33" height="8" fill="#43004c"/>
<rect x="521.63" y="770" width="18.33" height="48" fill="#0b000c"/>
<rect x="539.66" y="170" width="18.33" height="64" fill="#0b000c"/>
<rect x="539.66" y="234" width="18.33" height="16" fill="#3e0055"/>
<rect x="539.66" y="250" width="18.33" height="8" fill="#400052"/>
<rect x="539.66" y="258" width="18.33" height="8" fill="#3d0055"/>
<rect x="539.66" y="266" width="18.33" height="8" fill="#3a0059"/>
<rect x="539.66" y="274" width="18.33" height="8" fill="#37005c"/>
<rect x="539.66" y="282" width="18.33" height="8" fill="#34005f"/>
<rect x="539.66" y="290" width="18.33" height="8" fill="#2c0068"/>
<rect x="539.66" y="298" width="18.33" height="8" fill="#2a006a"/>
<rect x="539.66" y="306" width="18.33" height="8" fill="#28006c"/>
<rect x="539.66" y="314" width="18.33" height="8" fill="#27006d"/>
<rect x="539.66" y="322" width="18.33" height="8" fill="#25006f"/>
<rect x="539.66" y="330" width="18.33" height="8" fill="#240070"/>
<rect x="539.66" y="338" width="18.33" height="8" fill="#1c0078"/>
<rect x="539.66" y="346" width="18.33" height="8" fill="#1a007a"/>
<rect x="539.66" y="354" width="18.33" height="8" fill="#18007c"/>
<rect x="539.66" y="362" width="18.33" height="8" fill="#17007e"/>
<rect x="539.66" y="370" width="18.33" height="8" fill="#0f0086"/>
<rect x="539.66" y="378" width="18.33" height="8" fill="#0d0088"/>
<rect x="539.66" y="386" width="18.33" height="32" fill="#000096"/>
<rect x="539.66" y="418" width="18.33" height="8" fill="#000f84"/>
<rect x="539.66" y="426" width="18.33" height="8" fill="#00147e"/>
<rect x="539.66" y="434" width="18.33" height="8" fill="#001979"/>
<rect x="539.66" y="442" width="18.33" height="8" fill="#001e73"/>
<rect x="539.66" y="450" width="18.33" height="8" fill="#002d61"/>
<rect x="539.66" y="458" width="18.33" height="8" fill="#002f5f"/>
<rect x="539.66" y="466" width="18.33" height="8" fill="#00305e"/>
<rect x="539.66" y="474" width="18.33" height="8" fill="#00325c"/>
<rect x="539.66" y="482" width="18.33" height="8" fill="#00335a"/>
<rect x="539.66" y="490" width="18.33" height="8" fill="#003558"/>
<rect x="539.66" y="498" width="18.33" height="8" fill="#003656"/>
<rect x="539.66" y="506" width="18.33" height="8" fill="#003855"/>
<rect x="539.66" y="514" width="18.33" height="8" fill="#003953"/>
<rect x="539.66" y="522" width="18.33" height="8" fill="#003b51"/>
<rect x="539.66" y="530" width="18.33" height="8" fill="#003c4f"/>
<rect x="539.66" y="538" width="18.33" height="8" fill="#002d61"/>
<rect x="539.66" y="546" width="18.33" height="8" fill="#002b63"/>
<rect x="539.66" y="554" width="18.33" height="8" fill="#002965"/>
<rect x="539.66" y="562" width="18.33" height="8" fill="#002868"/>
<rect x="539.66" y="570" width="18.33" height="8" fill="#00266a"/>
<rect x="539.66" y="578" width="18.33" height="8" fill="#001e73"/>
<rect x="539.66" y="586" width="18.33" height="8" fill="#001281"/>
<rect x="539.66" y="594" width="18.33" height="8" fill="#000f84"/>
<rect x="539.66" y="602" width="18.33" height="8" fill="#000392"/>
<rect x="539.66" y="610" width="18.33" height="8" fill="#000096"/>
<rect x="539.66" y="618" width="18.33" height="8" fill="#09008d"/>
<rect x="539.66" y="626" width="18.33" height="8" fill="#0c0089"/>
<rect x="539.66" y="634" width="18.33" height="8" fill="#0f0086"/>
<rect x="539.66" y="642" width="18.33" height="8" fill="#18007c"/>
<rect x="539.66" y="650" width="18.33" height="8" fill="#1b0079"/>
<rect x="539.66" y="658" width="18.33" height="8" fill="#1d0077"/>
<rect x="539.66" y="666" width="18.33" height="8" fill="#200074"/>
<rect x="539.66" y="674" width="18.33" height="8" fill="#240070"/>
<rect x="539.66" y="682" width="18.33" height="8" fill="#25006f"/>
<rect x="539.66" y="690" width="18.33" height="8" fill="#27006d"/>
<rect x="539.66" y="698" width="18.33" height="8" fill="#28006c"/>
<rect x="539.66" y="706" width="18.33" height="8" fill="#2c0068"/>
<rect x="539.66" y="714" width="18.33" height="8" fill="#2e0066"/>
<rect x="539.66" y="722" width="18.33" height="8" fill="#300064"/>
<rect x="539.66" y="730" width="18.33" height="8" fill="#320062"/>
<rect x="539.66" y="738" width="18.33" height="8" fill="#35005f"/>
<rect x="539.66" y="746" width="18.33" height="8" fill="#38005b"/>
<rect x="539.66" y="754" width="18.33" height="8" fill="#3b0058"/>
<rect x="539.66" y="762" width="18.33" height="8" fill="#3e0055"/>
<rect x="539.66" y="770" width="18.33" height="8" fill="#410051"/>
<rect x="539.66" y="778" width="18.33" height="8" fill="#44004e"/>
<rect x="539.66" y="786" width="18.33" height="32" fill="#0b000c"/>
<rect x="557.69" y="170" width="18.33" height="80" fill="#0b000c"/>
<rect x="557.69" y="250" width="18.33" height="16" fill="#2e0066"/>
<rect x="557.69" y="266" width="18.33" height="8" fill="#2a006a"/>
<rect x="557.69" y="274" width="18.33" height="8" fill="#29006b"/>
<rect x="557.69" y="282" width="18.33" height="8" fill="#28006c"/>
<rect x="557.69" y="290" width="18.33" height="8" fill="#27006d"/>
<rect x="557.69" y="298" width="18.33" height="8" fill="#26006e"/>
<rect x="557.69" y="306" width="18.33" height="8" fill="#240070"/>
<rect x="557.69" y="314" width="18.33" height="8" fill="#230071"/>
<rect x="557.69" y="322" width="18.33" height="8" fill="#210073"/>
<rect x="557.69" y="330" width="18.33" height="8" fill="#200074"/>
<rect x="557.69" y="338" width="18.33" height="8" fill="#1d0077"/>
<rect x="557.69" y="346" width="18.33" height="8" fill="#1b0079"/>
<rect x="557.69" y="354" width="18.33" height="8" fill="#18007c"/>
<rect x="557.69" y="362" width="18.33" height="8" fill="#16007f"/>
<rect x="557.69" y="370" width="18.33" height="8" fill="#110083"/>
<rect x="557.69" y="378" width="18.33" height="8" fill="#0d0088"/>
<rect x="557.69" y="386" width="18.33" height="8" fill="#040091"/>
<rect x="557.69" y="394" width="18.33" height="8" fill="#010095"/>
<rect x="557.69" y="402" width="18.33" height="8" fill="#000591"/>
<rect x="557.69" y="410" width="18.33" height="8" fill="#00177c"/>
<rect x="557.69" y="418" width="18.33" height="16" fill="#001e73"/>
<rect x="557.69" y="434" width="18.33" height="8" fill="#00266a"/>
<rect x="557.69" y="442" width="18.33" height="8" fill="#002d61"/>
<rect x="557.69" y="450" width="18.33" height="8" fill="#003c4f"/>
<rect x="557.69" y="458" width="18.33" height="8" fill="#00414a"/>
<rect x="557.69" y="466" width="18.33" height="8" fill="#004249"/>
<rect x="557.69" y="474" width="18.33" height="8" fill="#004248"/>
<rect x="557.69" y="482" width="18.33" height="8" fill="#004347"/>
<rect x="557.69" y="490" width="18.33" height="8" fill="#004447"/>
<rect x="557.69" y="498" width="18.33" height="8" fill="#004546"/>
<rect x="557.69" y="506" width="18.33" height="8" fill="#004545"/>
<rect x="557.69" y="514" width="18.33" height="8" fill="#004644"/>
<rect x="557.69" y="522" width="18.33" height="8" fill="#004743"/>
<rect x="557.69" y="530" width="18.33" height="8" fill="#004842"/>
<rect x="557.69" y="538" width="18.33" height="8" fill="#004841"/>
<rect x="557.69" y="546" width="18.33" height="8" fill="#004940"/>
<rect x="557.69" y="554" width="18.33" height="8" fill="#004a40"/>
<rect x="557.69" y="562" width="18.33" height="8" fill="#004b3f"/>
<rect x="557.69" y="570" width="18.33" height="8" fill="#004b3e"/>
<rect x="557.69" y="578" width="18.33" height="8" fill="#004447"/>
<rect x="557.69" y="586" width="18.33" height="8" fill="#003c4f"/>
<rect x="557.69" y="594" width="18.33" height="8" fill="#002d61"/>
<rect x="557.69" y="602" width="18.33" height="8" fill="#001e73"/>
<rect x="557.69" y="610" width="18.33" height="8" fill="#00088d"/>
<rect x="557.69" y="618" width="18.33" height="8" fill="#000096"/>
<rect x="557.69" y="626" width="18.33" height="8" fill="#0b008a"/>
<rect x="557.69" y="634" width="18.33" height="8" fill="#0f0086"/>
<rect x="557.69" y="642" width="18.33" height="8" fill="#1a007a"/>
<rect x="557.69" y="650" width="18.33" height="8" fill="#1e0076"/>
<rect x="557.69" y="658" width="18.33" height="8" fill="#220072"/>
<rect x="557.69" y="666" width="18.33" height="8" fill="#28006c"/>
<rect x="557.69" y="674" width="18.33" height="8" fill="#2a006a"/>
<rect x="557.69" y="682" width="18.33" height="8" fill="#2c0068"/>
<rect x="557.69" y="690" width="18.33" height="8" fill="#34005f"/>
<rect x="557.69" y="698" width="18.33" height="8" fill="#37005c"/>
<rect x="557.69" y="706" width="18.33" height="8" fill="#3a0059"/>
<rect x="557.69" y="714" width="18.33" height="8" fill="#3d0055"/>
<rect x="557.69" y="722" width="18.33" height="8" fill="#400052"/>
<rect x="557.69" y="730" width="18.33" height="8" fill="#410051"/>
<rect x="557.69" y="738" width="18.33" height="8" fill="#430050"/>
<rect x="557.69" y="746" width="18.33" height="16" fill="#44004e"/>
<rect x="557.69" y="762" width="18.33" height="8" fill="#43004d"/>
<rect x="557.69" y="770" width="18.33" height="8" fill="#42004c"/>
<rect x="557.69" y="778" width="18.33" height="8" fill="#42004b"/>
<rect x="557.69" y="786" width="18.33" height="8" fill="#41004b"/>
<rect x="557.69" y="794" width="18.33" height="8" fill="#40004a"/>
<rect x="557.69" y="802" width="18.33" height="16" fill="#0b000c"/>
<rect x="575.72" y="170" width="18.33" height="96" fill="#0b000c"/>
<rect x="575.72" y="266" width="18.33" height="8" fill="#26006e"/>
<rect x="575.72" y="274" width="18.33" height="8" fill="#240070"/>
<rect x="575.72" y="282" width="18.33" height="16" fill="#220072"/>
<rect x="575.72" y="298" width="18.33" height="8" fill="#210073"/>
<rect x="575.72" y="306" width="18.33" height="24" fill="#200074"/>
<rect x="575.72" y="330" width="18.33" height="8" fill="#1f0075"/>
<rect x="575.72" y="338" width="18.33" height="16" fill="#1e0076"/>
<rect x="575.72" y="354" width="18.33" height="8" fill="#1b0079"/>
<rect x="575.72" y="362" width="18.33" height="8" fill="#18007c"/>
<rect x="575.72" y="370" width="18.33" height="8" fill="#150080"/>
<rect x="575.72" y="378" width="18.33" height="8" fill="#110083"/>
<rect x="575.72" y="386" width="18.33" height="8" fill="#09008d"/>
<rect x="575.72" y="394" width="18.33" height="8" fill="#020094"/>
<rect x="575.72" y="402" width="18.33" height="8" fill="#000f84"/>
<rect x="575.72" y="410" width="18.33" height="8" fill="#001a78"/>
<rect x="575.72" y="418" width="18.33" height="8" fill="#00216f"/>
<rect x="575.72" y="426" width="18.33" height="8" fill="#00266a"/>
<rect x="575.72" y="434" width="18.33" height="8" fill="#003558"/>
<rect x="575.72" y="442" width="18.33" height="8" fill="#004743"/>
<rect x="575.72" y="450" width="18.33" height="24" fill="#005335"/>
<rect x="575.72" y="474" width="18.33" height="24" fill="#006223"/>
<rect x="575.72" y="498" width="18.33" height="24" fill="#006322"/>
<rect x="575.72" y="522" width="18.33" height="16" fill="#006421"/>
<rect x="575.72" y="538" width="18.33" height="8" fill="#006420"/>
<rect x="575.72" y="546" width="18.33" height="16" fill="#006520"/>
<rect x="575.72" y="562" width="18.33" height="16" fill="#00651f"/>
<rect x="575.72" y="578" width="18.33" height="8" fill="#00661f"/>
<rect x="575.72" y="586" width="18.33" height="16" fill="#00661e"/>
<rect x="575.72" y="602" width="18.33" height="8" fill="#00691a"/>
<rect x="575.72" y="610" width="18.33" height="8" fill="#005335"/>
<rect x="575.72" y="618" width="18.33" height="8" fill="#003c4f"/>
<rect x="575.72" y="626" width="18.33" height="8" fill="#00266a"/>
<rect x="575.72" y="634" width="18.33" height="8" fill="#00088d"/>
<rect x="575.72" y="642" width="18.33" height="8" fill="#000096"/>
<rect x="575.72" y="650" width="18.33" height="8" fill="#0b008a"/>
<rect x="575.72" y="658" width="18.33" height="8" fill="#130081"/>
<rect x="575.72" y="666" width="18.33" height="8" fill="#1e0076"/>
<rect x="575.72" y="674" width="18.33" height="8" fill="#220072"/>
<rect x="575.72" y="682" width="18.33" height="8" fill="#26006e"/>
<rect x="575.72" y="690" width="18.33" height="8" fill="#29006b"/>
<rect x="575.72" y="698" width="18.33" height="8" fill="#2c0068"/>
<rect x="575.72" y="706" width="18.33" height="8" fill="#2d0067"/>
<rect x="575.72" y="714" width="18.33" height="8" fill="#2f0065"/>
<rect x="575.72" y="722" width="18.33" height="8" fill="#300064"/>
<rect x="575.72" y="730" width="18.33" height="8" fill="#38005c"/>
<rect x="575.72" y="738" width="18.33" height="8" fill="#3a005a"/>
<rect x="575.72" y="746" width="18.33" height="8" fill="#3c0057"/>
<rect x="575.72" y="754" width="18.33" height="8" fill="#3d0056"/>
<rect x="575.72" y="762" width="18.33" height="8" fill="#3e0054"/>
<rect x="575.72" y="770" width="18.33" height="8" fill="#400053"/>
<rect x="575.72" y="778" width="18.33" height="8" fill="#410051"/>
<rect x="575.72" y="786" width="18.33" height="8" fill="#420050"/>
<rect x="575.72" y="794" width="18.33" height="8" fill="#44004e"/>
<rect x="575.72" y="802" width="18.33" height="8" fill="#43004d"/>
<rect x="575.72" y="810" width="18.33" height="8" fill="#43004c"/>
<rect x="593.75" y="170" width="18.33" height="112" fill="#0b000c"/>
<rect x="593.75" y="282" width="18.33" height="8" fill="#220072"/>
<rect x="593.75" y="290" width="18.33" height="16" fill="#210073"/>
<rect x="593.75" y="306" width="18.33" height="16" fill="#200074"/>
<rect x="593.75" y="322" width="18.33" height="16" fill="#1f0075"/>
<rect x="593.75" y="338" width="18.33" height="16" fill="#1e0076"/>
<rect x="593.75" y="354" width="18.33" height="8" fill="#1d0077"/>
<rect x="593.75" y="362" width="18.33" height="8" fill="#1c0078"/>
<rect x="593.75" y="370" width="18.33" height="8" fill="#18007c"/>
<rect x="593.75" y="378" width="18.33" height="8" fill="#140081"/>
<rect x="593.75" y="386" width="18.33" height="8" fill="#0d0088"/>
<rect x="593.75" y="394" width="18.33" height="8" fill="#06008f"/>
<rect x="593.75" y="402" width="18.33" height="8" fill="#000096"/>
<rect x="593.75" y="410" width="18.33" height="8" fill="#000f84"/>
<rect x="593.75" y="418" width="18.33" height="8" fill="#001e73"/>
<rect x="593.75" y="426" width="18.33" height="8" fill="#002d61"/>
<rect x="593.75" y="434" width="18.33" height="8" fill="#003c4f"/>
<rect x="593.75" y="442" width="18.33" height="8" fill="#004b3e"/>
<rect x="593.75" y="450" width="18.33" height="8" fill="#005f27"/>
<rect x="593.75" y="458" width="18.33" height="16" fill="#006c17"/>
<rect x="593.75" y="474" width="18.33" height="8" fill="#007210"/>
<rect x="593.75" y="482" width="18.33" height="8" fill="#007310"/>
<rect x="593.75" y="490" width="18.33" height="32" fill="#00730f"/>
<rect x="593.75" y="522" width="18.33" height="8" fill="#00740f"/>
<rect x="593.75" y="530" width="18.33" height="40" fill="#00740e"/>
<rect x="593.75" y="570" width="18.33" height="40" fill="#00750d"/>
<rect x="593.75" y="610" width="18.33" height="8" fill="#00750c"/>
<rect x="593.75" y="618" width="18.33" height="8" fill="#006c17"/>
<rect x="593.75" y="626" width="18.33" height="8" fill="#005f27"/>
<rect x="593.75" y="634" width="18.33" height="8" fill="#004b3e"/>
<rect x="593.75" y="642" width="18.33" height="8" fill="#003953"/>
<rect x="593.75" y="650" width="18.33" height="8" fill="#00236d"/>
<rect x="593.75" y="658" width="18.33" height="8" fill="#000c88"/>
<rect x="593.75" y="666" width="18.33" height="8" fill="#000096"/>
<rect x="593.75" y="674" width="18.33" height="8" fill="#0b008a"/>
<rect x="593.75" y="682" width="18.33" height="8" fill="#110083"/>
<rect x="593.75" y="690" width="18.33" height="8" fill="#1c0078"/>
<rect x="593.75" y="698" width="18.33" height="8" fill="#200074"/>
<rect x="593.75" y="706" width="18.33" height="8" fill="#240070"/>
<rect x="593.75" y="714" width="18.33" height="8" fill="#2a006a"/>
<rect x="593.75" y="722" width="18.33" height="8" fill="#2f0065"/>
<rect x="593.75" y="730" width="18.33" height="8" fill="#36005e"/>
<rect x="593.75" y="738" width="18.33" height="8" fill="#3d0056"/>
<rect x="593.75" y="746" width="18.33" height="8" fill="#3e0055"/>
<rect x="593.75" y="754" width="18.33" height="8" fill="#3e0054"/>
<rect x="593.75" y="762" width="18.33" height="8" fill="#3f0053"/>
<rect x="593.75" y="770" width="18.33" height="8" fill="#400052"/>
<rect x="593.75" y="778" width="18.33" height="8" fill="#410052"/>
<rect x="593.75" y="786" width="18.33" height="8" fill="#420051"/>
<rect x="593.75" y="794" width="18.33" height="8" fill="#420050"/>
<rect x="593.75" y="802" width="18.33" height="8" fill="#43004f"/>
<rect x="593.75" y="810" width="18.33" height="8" fill="#44004e"/>
<rect x="611.78" y="170" width="18.33" height="120" fill="#0b000c"/>
<rect x="611.78" y="290" width="18.33" height="8" fill="#28006c"/>
<rect x="611.78" y="298" width="18.33" height="8" fill="#27006d"/>
<rect x="611.78" y="306" width="18.33" height="8" fill="#26006e"/>
<rect x="611.78" y="314" width="18.33" height="8" fill="#25006f"/>
<rect x="611.78" y="322" width="18.33" height="8" fill="#240070"/>
<rect x="611.78" y="330" width="18.33" height="8" fill="#230071"/>
<rect x="611.78" y="338" width="18.33" height="8" fill="#220072"/>
<rect x="611.78" y="346" width="18.33" height="16" fill="#210073"/>
<rect x="611.78" y="362" width="18.33" height="8" fill="#200074"/>
<rect x="611.78" y="370" width="18.33" height="8" fill="#1f0075"/>
<rect x="611.78" y="378" width="18.33" height="8" fill="#1e0076"/>
<rect x="611.78" y="386" width="18.33" height="8" fill="#18007c"/>
<rect x="611.78" y="394" width="18.33" height="8" fill="#120083"/>
<rect x="611.78" y="402" width="18.33" height="8" fill="#0b008a"/>
<rect x="611.78" y="410" width="18.33" height="8" fill="#020094"/>
<rect x="611.78" y="418" width="18.33" height="8" fill="#000b8a"/>
<rect x="611.78" y="426" width="18.33" height="8" fill="#00266a"/>
<rect x="611.78" y="434" width="18.33" height="8" fill="#003c4f"/>
<rect x="611.78" y="442" width="18.33" height="8" fill="#004b3e"/>
<rect x="611.78" y="450" width="18.33" height="8" fill="#006223"/>
<rect x="611.78" y="458" width="18.33" height="8" fill="#00740e"/>
<rect x="611.78" y="466" width="18.33" height="8" fill="#008000"/>
<rect x="611.78" y="474" width="18.33" height="24" fill="#0b8700"/>
<rect x="611.78" y="498" width="18.33" height="16" fill="#0b8800"/>
<rect x="611.78" y="514" width="18.33" height="8" fill="#0c8800"/>
<rect x="611.78" y="522" width="18.33" height="8" fill="#0c8900"/>
<rect x="611.78" y="530" width="18.33" height="16" fill="#0d8900"/>
<rect x="611.78" y="546" width="18.33" height="8" fill="#0e8900"/>
<rect x="611.78" y="554" width="18.33" height="16" fill="#0e8a00"/>
<rect x="611.78" y="570" width="18.33" height="8" fill="#0f8a00"/>
<rect x="611.78" y="578" width="18.33" height="8" fill="#0f8b00"/>
<rect x="611.78" y="586" width="18.33" height="16" fill="#108b00"/>
<rect x="611.78" y="602" width="18.33" height="8" fill="#118c00"/>
<rect x="611.78" y="610" width="18.33" height="8" fill="#0e8a00"/>
<rect x="611.78" y="618" width="18.33" height="8" fill="#0b8700"/>
<rect x="611.78" y="626" width="18.33" height="8" fill="#078500"/>
<rect x="611.78" y="634" width="18.33" height="8" fill="#048300"/>
<rect x="611.78" y="642" width="18.33" height="8" fill="#078500"/>
<rect x="611.78" y="650" width="18.33" height="8" fill="#007809"/>
<rect x="611.78" y="658" width="18.33" height="8" fill="#005335"/>
<rect x="611.78" y="666" width="18.33" height="8" fill="#003558"/>
<rect x="611.78" y="674" width="18.33" height="8" fill="#00177c"/>
<rect x="611.78" y="682" width="18.33" height="8" fill="#000096"/>
<rect x="611.78" y="690" width="18.33" height="8" fill="#09008d"/>
<rect x="611.78" y="698" width="18.33" height="8" fill="#130081"/>
<rect x="611.78" y="706" width="18.33" height="8" fill="#18007c"/>
<rect x="611.78" y="714" width="18.33" height="8" fill="#220072"/>
<rect x="611.78" y="722" width="18.33" height="8" fill="#28006c"/>
<rect x="611.78" y="730" width="18.33" height="8" fill="#2e0066"/>
<rect x="611.78" y="738" width="18.33" height="8" fill="#310063"/>
<rect x="611.78" y="746" width="18.33" height="8" fill="#330061"/>
<rect x="611.78" y="754" width="18.33" height="8" fill="#36005e"/>
<rect x="611.78" y="762" width="18.33" height="8" fill="#3d0056"/>
<rect x="611.78" y="770" width="18.33" height="8" fill="#3d0055"/>
<rect x="611.78" y="778" width="18.33" height="8" fill="#3e0055"/>
<rect x="611.78" y="786" width="18.33" height="8" fill="#3f0054"/>
<rect x="611.78" y="794" width="18.33" height="8" fill="#3f0053"/>
<rect x="611.78" y="802" width="18.33" height="8" fill="#400053"/>
<rect x="611.78" y="810" width="18.33" height="8" fill="#400052"/>
<rect x="629.81" y="170" width="18.33" height="128" fill="#0b000c"/>
<rect x="629.81" y="298" width="18.33" height="8" fill="#2e0066"/>
<rect x="629.81" y="306" width="18.33" height="8" fill="#2d0067"/>
<rect x="629.81" y="314" width="18.33" height="8" fill="#2c0068"/>
<rect x="629.81" y="322" width="18.33" height="16" fill="#2b0069"/>
<rect x="629.81" y="338" width="18.33" height="8" fill="#2a006a"/>
<rect x="629.81" y="346" width="18.33" height="8" fill="#29006b"/>
<rect x="629.81" y="354" width="18.33" height="8" fill="#28006c"/>
<rect x="629.81" y="362" width="18.33" height="8" fill="#27006d"/>
<rect x="629.81" y="370" width="18.33" height="8" fill="#26006e"/>
<rect x="629.81" y="378" width="18.33" height="8" fill="#25006f"/>
<rect x="629.81" y="386" width="18.33" height="8" fill="#240070"/>
<rect x="629.81" y="394" width="18.33" height="8" fill="#1f0075"/>
<rect x="629.81" y="402" width="18.33" height="8" fill="#19007b"/>
<rect x="629.81" y="410" width="18.33" height="8" fill="#130081"/>
<rect x="629.81" y="418" width="18.33" height="8" fill="#09008d"/>
<rect x="629.81" y="426" width="18.33" height="8" fill="#00088d"/>
<rect x="629.81" y="434" width="18.33" height="8" fill="#00266a"/>
<rect x="629.81" y="442" width="18.33" height="8" fill="#003c4f"/>
<rect x="629.81" y="450" width="18.33" height="8" fill="#005a2c"/>
<rect x="629.81" y="458" width="18.33" height="8" fill="#00740e"/>
<rect x="629.81" y="466" width="18.33" height="8" fill="#048300"/>
<rect x="629.81" y="474" width="18.33" height="8" fill="#108b00"/>
<rect x="629.81" y="482" width="18.33" height="16" fill="#249200"/>
<rect x="629.81" y="498" width="18.33" height="56" fill="#379800"/>
<rect x="629.81" y="554" width="18.33" height="8" fill="#279300"/>
<rect x="629.81" y="562" width="18.33" height="8" fill="#269300"/>
<rect x="629.81" y="570" width="18.33" height="8" fill="#259300"/>
<rect x="629.81" y="578" width="18.33" height="8" fill="#239200"/>
<rect x="629.81" y="586" width="18.33" height="8" fill="#229200"/>
<rect x="629.81" y="594" width="18.33" height="8" fill="#219200"/>
<rect x="629.81" y="602" width="18.33" height="56" fill="#299400"/>
<rect x="629.81" y="658" width="18.33" height="8" fill="#3c9900"/>
<rect x="629.81" y="666" width="18.33" height="8" fill="#148e00"/>
<rect x="629.81" y="674" width="18.33" height="8" fill="#078500"/>
<rect x="629.81" y="682" width="18.33" height="8" fill="#005a2c"/>
<rect x="629.81" y="690" width="18.33" height="8" fill="#003558"/>
<rect x="629.81" y="698" width="18.33" height="8" fill="#00177c"/>
<rect x="629.81" y="706" width="18.33" height="8" fill="#000096"/>
<rect x="629.81" y="714" width="18.33" height="8" fill="#0a008b"/>
<rect x="629.81" y="722" width="18.33" height="8" fill="#100085"/>
<rect x="629.81" y="730" width="18.33" height="8" fill="#220072"/>
<rect x="629.81" y="738" width="18.33" height="8" fill="#26006e"/>
<rect x="629.81" y="746" width="18.33" height="8" fill="#2a006a"/>
<rect x="629.81" y="754" width="18.33" height="8" fill="#300064"/>
<rect x="629.81" y="762" width="18.33" height="8" fill="#320062"/>
<rect x="629.81" y="770" width="18.33" height="8" fill="#34005f"/>
<rect x="629.81" y="778" width="18.33" height="8" fill="#3d0056"/>
<rect x="629.81" y="786" width="18.33" height="8" fill="#3e0055"/>
<rect x="629.81" y="794" width="18.33" height="8" fill="#3f0054"/>
<rect x="629.81" y="802" width="18.33" height="8" fill="#400053"/>
<rect x="629.81" y="810" width="18.33" height="8" fill="#400052"/>
<rect x="647.84" y="170" width="18.33" height="128" fill="#0b000c"/>
<rect x="647.84" y="298" width="18.33" height="8" fill="#34005f"/>
<rect x="647.84" y="306" width="18.33" height="8" fill="#330061"/>
<rect x="647.84" y="314" width="18.33" height="8" fill="#320062"/>
<rect x="647.84" y="322" width="18.33" height="8" fill="#310063"/>
<rect x="647.84" y="330" width="18.33" height="16" fill="#300064"/>
<rect x="647.84" y="346" width="18.33" height="8" fill="#2f0065"/>
<rect x="647.84" y="354" width="18.33" height="8" fill="#2e0066"/>
<rect x="647.84" y="362" width="18.33" height="8" fill="#2d0067"/>
<rect x="647.84" y="370" width="18.33" height="16" fill="#2c0068"/>
<rect x="647.84" y="386" width="18.33" height="8" fill="#2b0069"/>
<rect x="647.84" y="394" width="18.33" height="8" fill="#2a006a"/>
<rect x="647.84" y="402" width="18.33" height="8" fill="#230071"/>
<rect x="647.84" y="410" width="18.33" height="8" fill="#1d0077"/>
<rect x="647.84" y="418" width="18.33" height="8" fill="#16007f"/>
<rect x="647.84" y="426" width="18.33" height="8" fill="#0d0088"/>
<rect x="647.84" y="434" width="18.33" height="8" fill="#000f84"/>
<rect x="647.84" y="442" width="18.33" height="8" fill="#00266a"/>
<rect x="647.84" y="450" width="18.33" height="8" fill="#003c4f"/>
<rect x="647.84" y="458" width="18.33" height="8" fill="#005a2c"/>
<rect x="647.84" y="466" width="18.33" height="8" fill="#007d04"/>
<rect x="647.84" y="474" width="18.33" height="8" fill="#108b00"/>
<rect x="647.84" y="482" width="18.33" height="8" fill="#379800"/>
<rect x="647.84" y="490" width="18.33" height="8" fill="#519f00"/>
<rect x="647.84" y="498" width="18.33" height="48" fill="#6ca700"/>
<rect x="647.84" y="546" width="18.33" height="16" fill="#5ca200"/>
<rect x="647.84" y="562" width="18.33" height="8" fill="#419a00"/>
<rect x="647.84" y="570" width="18.33" height="8" fill="#409a00"/>
<rect x="647.84" y="578" width="18.33" height="8" fill="#3f9a00"/>
<rect x="647.84" y="586" width="18.33" height="8" fill="#3d9900"/>
<rect x="647.84" y="594" width="18.33" height="16" fill="#3c9900"/>
<rect x="647.84" y="610" width="18.33" height="8" fill="#3f9a00"/>
<rect x="647.84" y="618" width="18.33" height="8" fill="#439b00"/>
<rect x="647.84" y="626" width="18.33" height="8" fill="#469c00"/>
<rect x="647.84" y="634" width="18.33" height="8" fill="#499d00"/>
<rect x="647.84" y="642" width="18.33" height="40" fill="#5ca200"/>
<rect x="647.84" y="682" width="18.33" height="8" fill="#3c9900"/>
<rect x="647.84" y="690" width="18.33" height="8" fill="#0d8900"/>
<rect x="647.84" y="698" width="18.33" height="8" fill="#007112"/>
<rect x="647.84" y="706" width="18.33" height="8" fill="#004b3e"/>
<rect x="647.84" y="714" width="18.33" height="8" fill="#001e73"/>
<rect x="647.84" y="722" width="18.33" height="8" fill="#000096"/>
<rect x="647.84" y="730" width="18.33" height="8" fill="#0f0086"/>
<rect x="647.84" y="738" width="18.33" height="8" fill="#140081"/>
<rect x="647.84" y="746" width="18.33" height="8" fill="#220072"/>
<rect x="647.84" y="754" width="18.33" height="8" fill="#26006e"/>
<rect x="647.84" y="762" width="18.33" height="8" fill="#2a006a"/>
<rect x="647.84" y="770" width="18.33" height="8" fill="#300064"/>
<rect x="647.84" y="778" width="18.33" height="8" fill="#320062"/>
<rect x="647.84" y="786" width="18.33" height="8" fill="#34005f"/>
<rect x="647.84" y="794" width="18.33" height="8" fill="#3c0057"/>
<rect x="647.84" y="802" width="18.33" height="8" fill="#3d0056"/>
<rect x="647.84" y="810" width="18.33" height="8" fill="#3e0055"/>
<rect x="665.87" y="170" width="18.33" height="120" fill="#0b000c"/>
<rect x="665.87" y="290" width="18.33" height="8" fill="#3a0059"/>
<rect x="665.87" y="298" width="18.33" height="8" fill="#3a005a"/>
<rect x="665.87" y="306" width="18.33" height="8" fill="#39005a"/>
<rect x="665.87" y="314" width="18.33" height="8" fill="#38005b"/>
<rect x="665.87" y="322" width="18.33" height="8" fill="#37005c"/>
<rect x="665.87" y="330" width="18.33" height="8" fill="#36005d"/>
<rect x="665.87" y="338" width="18.33" height="8" fill="#36005e"/>
<rect x="665.87" y="346" width="18.33" height="8" fill="#35005f"/>
<rect x="665.87" y="354" width="18.33" height="8" fill="#340060"/>
<rect x="665.87" y="362" width="18.33" height="8" fill="#330061"/>
<rect x="665.87" y="370" width="18.33" height="16" fill="#320062"/>
<rect x="665.87" y="386" width="18.33" height="16" fill="#310063"/>
<rect x="665.87" y="402" width="18.33" height="16" fill="#300064"/>
<rect x="665.87" y="418" width="18.33" height="8" fill="#2b0069"/>
<rect x="665.87" y="426" width="18.33" height="8" fill="#26006e"/>
<rect x="665.87" y="434" width="18.33" height="8" fill="#16007f"/>
<rect x="665.87" y="442" width="18.33" height="8" fill="#000096"/>
<rect x="665.87" y="450" width="18.33" height="8" fill="#000f84"/>
<rect x="665.87" y="458" width="18.33" height="8" fill="#003558"/>
<rect x="665.87" y="466" width="18.33" height="8" fill="#006223"/>
<rect x="665.87" y="474" width="18.33" height="8" fill="#048300"/>
<rect x="665.87" y="482" width="18.33" height="8" fill="#219200"/>
<rect x="665.87" y="490" width="18.33" height="8" fill="#499d00"/>
<rect x="665.87" y="498" width="18.33" height="16" fill="#6ca700"/>
<rect x="665.87" y="514" width="18.33" height="8" fill="#6da700"/>
<rect x="665.87" y="522" width="18.33" height="8" fill="#6ea800"/>
<rect x="665.87" y="530" width="18.33" height="8" fill="#6fa800"/>
<rect x="665.87" y="538" width="18.33" height="16" fill="#70a800"/>
<rect x="665.87" y="554" width="18.33" height="24" fill="#57a000"/>
<rect x="665.87" y="578" width="18.33" height="24" fill="#3c9900"/>
<rect x="665.87" y="602" width="18.33" height="32" fill="#499d00"/>
<rect x="665.87" y="634" width="18.33" height="8" fill="#5ca200"/>
<rect x="665.87" y="642" width="18.33" height="8" fill="#5ea200"/>
<rect x="665.87" y="650" width="18.33" height="8" fill="#5fa300"/>
<rect x="665.87" y="658" width="18.33" height="8" fill="#61a300"/>
<rect x="665.87" y="666" width="18.33" height="8" fill="#62a400"/>
<rect x="665.87" y="674" width="18.33" height="8" fill="#64a400"/>
<rect x="665.87" y="682" width="18.33" height="8" fill="#419a00"/>
<rect x="665.87" y="690" width="18.33" height="8" fill="#148e00"/>
<rect x="665.87" y="698" width="18.33" height="8" fill="#007809"/>
<rect x="665.87" y="706" width="18.33" height="8" fill="#005335"/>
<rect x="665.87" y="714" width="18.33" height="8" fill="#00266a"/>
<rect x="665.87" y="722" width="18.33" height="8" fill="#000096"/>
<rect x="665.87" y="730" width="18.33" height="8" fill="#0f0086"/>
<rect x="665.87" y="738" width="18.33" height="8" fill="#140081"/>
<rect x="665.87" y="746" width="18.33" height="8" fill="#220072"/>
<rect x="665.87" y="754" width="18.33" height="8" fill="#26006e"/>
<rect x="665.87" y="762" width="18.33" height="8" fill="#2a006a"/>
<rect x="665.87" y="770" width="18.33" height="8" fill="#300064"/>
<rect x="665.87" y="778" width="18.33" height="8" fill="#320062"/>
<rect x="665.87" y="786" width="18.33" height="8" fill="#34005f"/>
<rect x="665.87" y="794" width="18.33" height="8" fill="#3c0057"/>
<rect x="665.87" y="802" width="18.33" height="8" fill="#3d0056"/>
<rect x="665.87" y="810" width="18.33" height="8" fill="#3e0055"/>
<rect x="683.9" y="170" width="18.33" height="112" fill="#0b000c"/>
<rect x="683.9" y="282" width="18.33" height="8" fill="#400052"/>
<rect x="683.9" y="290" width="18.33" height="8" fill="#400053"/>
<rect x="683.9" y="298" width="18.33" height="8" fill="#3f0054"/>
<rect x="683.9" y="306" width="18.33" height="8" fill="#3e0055"/>
<rect x="683.9" y="314" width="18.33" height="8" fill="#3d0056"/>
<rect x="683.9" y="322" width="18.33" height="8" fill="#3c0056"/>
<rect x="683.9" y="330" width="18.33" height="8" fill="#3c0057"/>
<rect x="683.9" y="338" width="18.33" height="8" fill="#3b0058"/>
<rect x="683.9" y="346" width="18.33" height="8" fill="#3a0059"/>
<rect x="683.9" y="354" width="18.33" height="8" fill="#39005a"/>
<rect x="683.9" y="362" width="18.33" height="8" fill="#38005b"/>
<rect x="683.9" y="370" width="18.33" height="8" fill="#38005c"/>
<rect x="683.9" y="378" width="18.33" height="8" fill="#37005d"/>
<rect x="683.9" y="386" width="18.33" height="8" fill="#36005e"/>
<rect x="683.9" y="394" width="18.33" height="8" fill="#35005e"/>
<rect x="683.9" y="402" width="18.33" height="8" fill="#34005f"/>
<rect x="683.9" y="410" width="18.33" height="8" fill="#2d0067"/>
<rect x="683.9" y="418" width="18.33" height="8" fill="#26006e"/>
<rect x="683.9" y="426" width="18.33" height="8" fill="#110083"/>
<rect x="683.9" y="434" width="18.33" height="8" fill="#000096"/>
<rect x="683.9" y="442" width="18.33" height="8" fill="#001e73"/>
<rect x="683.9" y="450" width="18.33" height="8" fill="#004b3e"/>
<rect x="683.9" y="458" width="18.33" height="8" fill="#008000"/>
<rect x="683.9" y="466" width="18.33" height="8" fill="#1c9000"/>
<rect x="683.9" y="474" width="18.33" height="40" fill="#449b00"/>
<rect x="683.9" y="514" width="18.33" height="96" fill="#379800"/>
<rect x="683.9" y="610" width="18.33" height="24" fill="#419a00"/>
<rect x="683.9" y="634" width="18.33" height="32" fill="#5ca200"/>
<rect x="683.9" y="666" width="18.33" height="8" fill="#379800"/>
<rect x="683.9" y="674" width="18.33" height="8" fill="#0d8900"/>
<rect x="683.9" y="682" width="18.33" height="8" fill="#007112"/>
<rect x="683.9" y="690" width="18.33" height="8" fill="#004b3e"/>
<rect x="683.9" y="698" width="18.33" height="8" fill="#00266a"/>
<rect x="683.9" y="706" width="18.33" height="8" fill="#00088d"/>
<rect x="683.9" y="714" width="18.33" height="8" fill="#09008d"/>
<rect x="683.9" y="722" width="18.33" height="8" fill="#110083"/>
<rect x="683.9" y="730" width="18.33" height="8" fill="#220072"/>
<rect x="683.9" y="738" width="18.33" height="8" fill="#26006e"/>
<rect x="683.9" y="746" width="18.33" height="8" fill="#2a006a"/>
<rect x="683.9" y="754" width="18.33" height="8" fill="#310063"/>
<rect x="683.9" y="762" width="18.33" height="8" fill="#330061"/>
<rect x="683.9" y="770" width="18.33" height="8" fill="#36005e"/>
<rect x="683.9" y="778" width="18.33" height="8" fill="#38005b"/>
<rect x="683.9" y="786" width="18.33" height="8" fill="#3e0055"/>
<rect x="683.9" y="794" width="18.33" height="8" fill="#3f0054"/>
<rect x="683.9" y="802" width="18.33" height="8" fill="#400053"/>
<rect x="683.9" y="810" width="18.33" height="8" fill="#400052"/>
<rect x="701.93" y="170" width="18.33" height="96" fill="#0b000c"/>
<rect x="701.93" y="266" width="18.33" height="8" fill="#3e0055"/>
<rect x="701.93" y="274" width="18.33" height="8" fill="#3a0059"/>
<rect x="701.93" y="282" width="18.33" height="8" fill="#36005e"/>
<rect x="701.93" y="290" width="18.33" height="8" fill="#320062"/>
<rect x="701.93" y="298" width="18.33" height="8" fill="#310063"/>
<rect x="701.93" y="306" width="18.33" height="16" fill="#300064"/>
<rect x="701.93" y="322" width="18.33" height="8" fill="#2f0065"/>
<rect x="701.93" y="330" width="18.33" height="8" fill="#2e0066"/>
<rect x="701.93" y="338" width="18.33" height="8" fill="#2d0067"/>
<rect x="701.93" y="346" width="18.33" height="16" fill="#2c0068"/>
<rect x="701.93" y="362" width="18.33" height="8" fill="#2b0069"/>
<rect x="701.93" y="370" width="18.33" height="8" fill="#2a006a"/>
<rect x="701.93" y="378" width="18.33" height="8" fill="#220072"/>
<rect x="701.93" y="386" width="18.33" height="8" fill="#1a007a"/>
<rect x="701.93" y="394" width="18.33" height="8" fill="#110083"/>
<rect x="701.93" y="402" width="18.33" height="8" fill="#000096"/>
<rect x="701.93" y="410" width="18.33" height="8" fill="#002d61"/>
<rect x="701.93" y="418" width="18.33" height="8" fill="#005038"/>
<rect x="701.93" y="426" width="18.33" height="8" fill="#00750c"/>
<rect x="701.93" y="434" width="18.33" height="8" fill="#0b8700"/>
<rect x="701.93" y="442" width="18.33" height="8" fill="#219200"/>
<rect x="701.93" y="450" width="18.33" height="16" fill="#229200"/>
<rect x="701.93" y="466" width="18.33" height="8" fill="#239200"/>
<rect x="701.93" y="474" width="18.33" height="16" fill="#249200"/>
<rect x="701.93" y="490" width="18.33" height="16" fill="#259300"/>
<rect x="701.93" y="506" width="18.33" height="16" fill="#269300"/>
<rect x="701.93" y="522" width="18.33" height="8" fill="#279300"/>
<rect x="701.93" y="530" width="18.33" height="8" fill="#289300"/>
<rect x="701.93" y="538" width="18.33" height="8" fill="#289400"/>
<rect x="701.93" y="546" width="18.33" height="16" fill="#299400"/>
<rect x="701.93" y="562" width="18.33" height="16" fill="#57a000"/>
<rect x="701.93" y="578" width="18.33" height="8" fill="#69a600"/>
<rect x="701.93" y="586" width="18.33" height="8" fill="#67a500"/>
<rect x="701.93" y="594" width="18.33" height="40" fill="#64a400"/>
<rect x="701.93" y="634" width="18.33" height="8" fill="#499d00"/>
<rect x="701.93" y="642" width="18.33" height="8" fill="#299400"/>
<rect x="701.93" y="650" width="18.33" height="8" fill="#0b8700"/>
<rect x="701.93" y="658" width="18.33" height="8" fill="#00691a"/>
<rect x="701.93" y="666" width="18.33" height="8" fill="#004b3e"/>
<rect x="701.93" y="674" width="18.33" height="8" fill="#002d61"/>
<rect x="701.93" y="682" width="18.33" height="8" fill="#00177c"/>
<rect x="701.93" y="690" width="18.33" height="8" fill="#000096"/>
<rect x="701.93" y="698" width="18.33" height="8" fill="#0d0088"/>
<rect x="701.93" y="706" width="18.33" height="8" fill="#1a007a"/>
<rect x="701.93" y="714" width="18.33" height="8" fill="#1e0076"/>
<rect x="701.93" y="722" width="18.33" height="8" fill="#220072"/>
<rect x="701.93" y="730" width="18.33" height="8" fill="#2c0068"/>
<rect x="701.93" y="738" width="18.33" height="8" fill="#2e0066"/>
<rect x="701.93" y="746" width="18.33" height="8" fill="#310063"/>
<rect x="701.93" y="754" width="18.33" height="8" fill="#34005f"/>
<rect x="701.93" y="762" width="18.33" height="8" fill="#3a0059"/>
<rect x="701.93" y="770" width="18.33" height="8" fill="#3c0057"/>
<rect x="701.93" y="778" width="18.33" height="8" fill="#3e0055"/>
<rect x="701.93" y="786" width="18.33" height="8" fill="#3f0053"/>
<rect x="701.93" y="794" width="18.33" height="8" fill="#410052"/>
<rect x="701.93" y="802" width="18.33" height="8" fill="#420050"/>
<rect x="701.93" y="810" width="18.33" height="8" fill="#44004e"/>
<rect x="719.96" y="170" width="18.33" height="64" fill="#0b000c"/>
<rect x="719.96" y="234" width="18.33" height="8" fill="#44004e"/>
<rect x="719.96" y="242" width="18.33" height="8" fill="#43004f"/>
<rect x="719.96" y="250" width="18.33" height="8" fill="#420050"/>
<rect x="719.96" y="258" width="18.33" height="8" fill="#410051"/>
<rect x="719.96" y="266" width="18.33" height="8" fill="#400052"/>
<rect x="719.96" y="274" width="18.33" height="8" fill="#3f0054"/>
<rect x="719.96" y="282" width="18.33" height="8" fill="#3e0055"/>
<rect x="719.96" y="290" width="18.33" height="32" fill="#320062"/>
<rect x="719.96" y="322" width="18.33" height="8" fill="#26006e"/>
<rect x="719.96" y="330" width="18.33" height="8" fill="#220072"/>
<rect x="719.96" y="338" width="18.33" height="8" fill="#1a007a"/>
<rect x="719.96" y="346" width="18.33" height="8" fill="#110083"/>
<rect x="719.96" y="354" width="18.33" height="8" fill="#09008d"/>
<rect x="719.96" y="362" width="18.33" height="8" fill="#00088d"/>
<rect x="719.96" y="370" width="18.33" height="8" fill="#002d61"/>
<rect x="719.96" y="378" width="18.33" height="8" fill="#005a2c"/>
<rect x="719.96" y="386" width="18.33" height="8" fill="#0d8900"/>
<rect x="719.96" y="394" width="18.33" height="8" fill="#219200"/>
<rect x="719.96" y="402" width="18.33" height="8" fill="#499d00"/>
<rect x="719.96" y="410" width="18.33" height="88" fill="#64a400"/>
<rect x="719.96" y="498" width="18.33" height="8" fill="#66a500"/>
<rect x="719.96" y="506" width="18.33" height="8" fill="#68a500"/>
<rect x="719.96" y="514" width="18.33" height="8" fill="#69a600"/>
<rect x="719.96" y="522" width="18.33" height="8" fill="#6ba700"/>
<rect x="719.96" y="530" width="18.33" height="8" fill="#6da700"/>
<rect x="719.96" y="538" width="18.33" height="8" fill="#6fa800"/>
<rect x="719.96" y="546" width="18.33" height="8" fill="#70a800"/>
<rect x="719.96" y="554" width="18.33" height="32" fill="#96b600"/>
<rect x="719.96" y="586" width="18.33" height="8" fill="#75aa00"/>
<rect x="719.96" y="594" width="18.33" height="8" fill="#64a400"/>
<rect x="719.96" y="602" width="18.33" height="8" fill="#499d00"/>
<rect x="719.96" y="610" width="18.33" height="8" fill="#299400"/>
<rect x="719.96" y="618" width="18.33" height="8" fill="#0b8700"/>
<rect x="719.96" y="626" width="18.33" height="8" fill="#007809"/>
<rect x="719.96" y="634" width="18.33" height="8" fill="#006223"/>
<rect x="719.96" y="642" width="18.33" height="8" fill="#004743"/>
<rect x="719.96" y="650" width="18.33" height="8" fill="#002d61"/>
<rect x="719.96" y="658" width="18.33" height="8" fill="#00177c"/>
<rect x="719.96" y="666" width="18.33" height="8" fill="#000096"/>
<rect x="719.96" y="674" width="18.33" height="8" fill="#09008d"/>
<rect x="719.96" y="682" width="18.33" height="8" fill="#110083"/>
<rect x="719.96" y="690" width="18.33" height="8" fill="#1a007a"/>
<rect x="719.96" y="698" width="18.33" height="8" fill="#220072"/>
<rect x="719.96" y="706" width="18.33" height="8" fill="#26006e"/>
<rect x="719.96" y="714" width="18.33" height="8" fill="#2a006a"/>
<rect x="719.96" y="722" width="18.33" height="8" fill="#2e0066"/>
<rect x="719.96" y="730" width="18.33" height="8" fill="#300064"/>
<rect x="719.96" y="738" width="18.33" height="8" fill="#320062"/>
<rect x="719.96" y="746" width="18.33" height="8" fill="#34005f"/>
<rect x="719.96" y="754" width="18.33" height="8" fill="#3c0057"/>
<rect x="719.96" y="762" width="18.33" height="8" fill="#3e0055"/>
<rect x="719.96" y="770" width="18.33" height="8" fill="#400052"/>
<rect x="719.96" y="778" width="18.33" height="8" fill="#43004f"/>
<rect x="719.96" y="786" width="18.33" height="8" fill="#43004d"/>
<rect x="719.96" y="794" width="18.33" height="8" fill="#42004c"/>
<rect x="719.96" y="802" width="18.33" height="16" fill="#0b000c"/>
<rect x="737.99" y="170" width="18.33" height="40" fill="#0b000c"/>
<rect x="737.99" y="210" width="18.33" height="8" fill="#390042"/>
<rect x="737.99" y="218" width="18.33" height="8" fill="#3b0044"/>
<rect x="737.99" y="226" width="18.33" height="8" fill="#3e0047"/>
<rect x="737.99" y="234" width="18.33" height="8" fill="#400049"/>
<rect x="737.99" y="242" width="18.33" height="8" fill="#42004c"/>
<rect x="737.99" y="250" width="18.33" height="8" fill="#44004e"/>
<rect x="737.99" y="258" width="18.33" height="8" fill="#420051"/>
<rect x="737.99" y="266" width="18.33" height="8" fill="#3e0054"/>
<rect x="737.99" y="274" width="18.33" height="8" fill="#3b0058"/>
<rect x="737.99" y="282" width="18.33" height="8" fill="#38005b"/>
<rect x="737.99" y="290" width="18.33" height="8" fill="#300064"/>
<rect x="737.99" y="298" width="18.33" height="8" fill="#2a006a"/>
<rect x="737.99" y="306" width="18.33" height="8" fill="#220072"/>
<rect x="737.99" y="314" width="18.33" height="8" fill="#1a007a"/>
<rect x="737.99" y="322" width="18.33" height="8" fill="#0d0088"/>
<rect x="737.99" y="330" width="18.33" height="8" fill="#000096"/>
<rect x="737.99" y="338" width="18.33" height="8" fill="#00266a"/>
<rect x="737.99" y="346" width="18.33" height="8" fill="#005335"/>
<rect x="737.99" y="354" width="18.33" height="8" fill="#078500"/>
<rect x="737.99" y="362" width="18.33" height="8" fill="#219200"/>
<rect x="737.99" y="370" width="18.33" height="8" fill="#499d00"/>
<rect x="737.99" y="378" width="18.33" height="8" fill="#64a400"/>
<rect x="737.99" y="386" width="18.33" height="8" fill="#6ca700"/>
<rect x="737.99" y="394" width="18.33" height="8" fill="#7dad00"/>
<rect x="737.99" y="402" width="18.33" height="8" fill="#96b600"/>
<rect x="737.99" y="410" width="18.33" height="8" fill="#98b700"/>
<rect x="737.99" y="418" width="18.33" height="8" fill="#9bb800"/>
<rect x="737.99" y="426" width="18.33" height="8" fill="#9db800"/>
<rect x="737.99" y="434" width="18.33" height="8" fill="#9fb900"/>
<rect x="737.99" y="442" width="18.33" height="8" fill="#a1ba00"/>
<rect x="737.99" y="450" width="18.33" height="8" fill="#a4bb00"/>
<rect x="737.99" y="458" width="18.33" height="8" fill="#a6bc00"/>
<rect x="737.99" y="466" width="18.33" height="8" fill="#a8bd00"/>
<rect x="737.99" y="474" width="18.33" height="8" fill="#aabd00"/>
<rect x="737.99" y="482" width="18.33" height="8" fill="#adbe00"/>
<rect x="737.99" y="490" width="18.33" height="8" fill="#afbf00"/>
<rect x="737.99" y="498" width="18.33" height="48" fill="#c8c800"/>
<rect x="737.99" y="546" width="18.33" height="16" fill="#a2ba00"/>
<rect x="737.99" y="562" width="18.33" height="8" fill="#70a800"/>
<rect x="737.99" y="570" width="18.33" height="8" fill="#57a000"/>
<rect x="737.99" y="578" width="18.33" height="8" fill="#3c9900"/>
<rect x="737.99" y="586" width="18.33" height="8" fill="#219200"/>
<rect x="737.99" y="594" width="18.33" height="8" fill="#0b8700"/>
<rect x="737.99" y="602" width="18.33" height="8" fill="#007112"/>
<rect x="737.99" y="610" width="18.33" height="8" fill="#005a2c"/>
<rect x="737.99" y="618" width="18.33" height="8" fill="#004447"/>
<rect x="737.99" y="626" width="18.33" height="8" fill="#002d61"/>
<rect x="737.99" y="634" width="18.33" height="8" fill="#00177c"/>
<rect x="737.99" y="642" width="18.33" height="8" fill="#000096"/>
<rect x="737.99" y="650" width="18.33" height="8" fill="#09008d"/>
<rect x="737.99" y="658" width="18.33" height="8" fill="#110083"/>
<rect x="737.99" y="666" width="18.33" height="8" fill="#1a007a"/>
<rect x="737.99" y="674" width="18.33" height="8" fill="#220072"/>
<rect x="737.99" y="682" width="18.33" height="8" fill="#26006e"/>
<rect x="737.99" y="690" width="18.33" height="8" fill="#2a006a"/>
<rect x="737.99" y="698" width="18.33" height="8" fill="#2e0066"/>
<rect x="737.99" y="706" width="18.33" height="8" fill="#310063"/>
<rect x="737.99" y="714" width="18.33" height="8" fill="#340060"/>
<rect x="737.99" y="722" width="18.33" height="8" fill="#38005b"/>
<rect x="737.99" y="730" width="18.33" height="8" fill="#3e0055"/>
<rect x="737.99" y="738" width="18.33" height="8" fill="#410051"/>
<rect x="737.99" y="746" width="18.33" height="8" fill="#44004e"/>
<rect x="737.99" y="754" width="18.33" height="8" fill="#42004c"/>
<rect x="737.99" y="762" width="18.33" height="8" fill="#40004a"/>
<rect x="737.99" y="770" width="18.33" height="48" fill="#0b000c"/>
<rect x="756.02" y="170" width="18.33" height="24" fill="#0b000c"/>
<rect x="756.02" y="194" width="18.33" height="8" fill="#320039"/>
<rect x="756.02" y="202" width="18.33" height="8" fill="#34003c"/>
<rect x="756.02" y="210" width="18.33" height="8" fill="#36003e"/>
<rect x="756.02" y="218" width="18.33" height="8" fill="#380041"/>
<rect x="756.02" y="226" width="18.33" height="8" fill="#3a0043"/>
<rect x="756.02" y="234" width="18.33" height="8" fill="#3c0045"/>
<rect x="756.02" y="242" width="18.33" height="8" fill="#3e0048"/>
<rect x="756.02" y="250" width="18.33" height="8" fill="#40004a"/>
<rect x="756.02" y="258" width="18.33" height="8" fill="#44004e"/>
<rect x="756.02" y="266" width="18.33" height="8" fill="#3a0059"/>
<rect x="756.02" y="274" width="18.33" height="8" fill="#2e0066"/>
<rect x="756.02" y="282" width="18.33" height="8" fill="#220072"/>
<rect x="756.02" y="290" width="18.33" height="8" fill="#17007d"/>
<rect x="756.02" y="298" width="18.33" height="8" fill="#0d0088"/>
<rect x="756.02" y="306" width="18.33" height="8" fill="#040091"/>
<rect x="756.02" y="314" width="18.33" height="8" fill="#00088d"/>
<rect x="756.02" y="322" width="18.33" height="8" fill="#003c4f"/>
<rect x="756.02" y="330" width="18.33" height="8" fill="#007112"/>
<rect x="756.02" y="338" width="18.33" height="8" fill="#148e00"/>
<rect x="756.02" y="346" width="18.33" height="8" fill="#3c9900"/>
<rect x="756.02" y="354" width="18.33" height="8" fill="#57a000"/>
<rect x="756.02" y="362" width="18.33" height="8" fill="#70a800"/>
<rect x="756.02" y="370" width="18.33" height="8" fill="#8ab200"/>
<rect x="756.02" y="378" width="18.33" height="16" fill="#a2ba00"/>
<rect x="756.02" y="394" width="18.33" height="8" fill="#afbf00"/>
<rect x="756.02" y="402" width="18.33" height="24" fill="#c8c800"/>
<rect x="756.02" y="426" width="18.33" height="40" fill="#c8b400"/>
<rect x="756.02" y="466" width="18.33" height="24" fill="#c8ae00"/>
<rect x="756.02" y="490" width="18.33" height="16" fill="#c8a400"/>
<rect x="756.02" y="506" width="18.33" height="8" fill="#c8ae00"/>
<rect x="756.02" y="514" width="18.33" height="8" fill="#c8be00"/>
<rect x="756.02" y="522" width="18.33" height="8" fill="#afbf00"/>
<rect x="756.02" y="530" width="18.33" height="8" fill="#8ab200"/>
<rect x="756.02" y="538" width="18.33" height="8" fill="#64a400"/>
<rect x="756.02" y="546" width="18.33" height="8" fill="#499d00"/>
<rect x="756.02" y="554" width="18.33" height="8" fill="#219200"/>
<rect x="756.02" y="562" width="18.33" height="8" fill="#148e00"/>
<rect x="756.02" y="570" width="18.33" height="8" fill="#007809"/>
<rect x="756.02" y="578" width="18.33" height="8" fill="#005a2c"/>
<rect x="756.02" y="586" width="18.33" height="8" fill="#003c4f"/>
<rect x="756.02" y="594" width="18.33" height="8" fill="#003558"/>
<rect x="756.02" y="602" width="18.33" height="8" fill="#00177c"/>
<rect x="756.02" y="610" width="18.33" height="8" fill="#000096"/>
<rect x="756.02" y="618" width="18.33" height="8" fill="#09008d"/>
<rect x="756.02" y="626" width="18.33" height="8" fill="#110083"/>
<rect x="756.02" y="634" width="18.33" height="8" fill="#1a007a"/>
<rect x="756.02" y="642" width="18.33" height="8" fill="#220072"/>
<rect x="756.02" y="650" width="18.33" height="8" fill="#26006e"/>
<rect x="756.02" y="658" width="18.33" height="8" fill="#2a006a"/>
<rect x="756.02" y="666" width="18.33" height="8" fill="#2e0066"/>
<rect x="756.02" y="674" width="18.33" height="8" fill="#320062"/>
<rect x="756.02" y="682" width="18.33" height="8" fill="#38005b"/>
<rect x="756.02" y="690" width="18.33" height="8" fill="#3b0058"/>
<rect x="756.02" y="698" width="18.33" height="8" fill="#3f0054"/>
<rect x="756.02" y="706" width="18.33" height="8" fill="#420050"/>
<rect x="756.02" y="714" width="18.33" height="8" fill="#43004d"/>
<rect x="756.02" y="722" width="18.33" height="8" fill="#41004b"/>
<rect x="756.02" y="730" width="18.33" height="8" fill="#3f0048"/>
<rect x="756.02" y="738" width="18.33" height="80" fill="#0b000c"/>
<rect x="774.05" y="170" width="18.33" height="8" fill="#0b000c"/>
<rect x="774.05" y="178" width="18.33" height="8" fill="#2b0031"/>
<rect x="774.05" y="186" width="18.33" height="8" fill="#2d0034"/>
<rect x="774.05" y="194" width="18.33" height="8" fill="#300037"/>
<rect x="774.05" y="202" width="18.33" height="8" fill="#320039"/>
<rect x="774.05" y="210" width="18.33" height="8" fill="#34003c"/>
<rect x="774.05" y="218" width="18.33" height="8" fill="#37003f"/>
<rect x="774.05" y="226" width="18.33" height="8" fill="#390042"/>
<rect x="774.05" y="234" width="18.33" height="8" fill="#3c0044"/>
<rect x="774.05" y="242" width="18.33" height="8" fill="#3e0047"/>
<rect x="774.05" y="250" width="18.33" height="8" fill="#40004a"/>
<rect x="774.05" y="258" width="18.33" height="8" fill="#420051"/>
<rect x="774.05" y="266" width="18.33" height="8" fill="#38005b"/>
<rect x="774.05" y="274" width="18.33" height="8" fill="#26006e"/>
<rect x="774.05" y="282" width="18.33" height="8" fill="#16007f"/>
<rect x="774.05" y="290" width="18.33" height="8" fill="#0d0088"/>
<rect x="774.05" y="298" width="18.33" height="8" fill="#040091"/>
<rect x="774.05" y="306" width="18.33" height="8" fill="#00266a"/>
<rect x="774.05" y="314" width="18.33" height="8" fill="#005335"/>
<rect x="774.05" y="322" width="18.33" height="8" fill="#007809"/>
<rect x="774.05" y="330" width="18.33" height="8" fill="#219200"/>
<rect x="774.05" y="338" width="18.33" height="8" fill="#3c9900"/>
<rect x="774.05" y="346" width="18.33" height="8" fill="#499d00"/>
<rect x="774.05" y="354" width="18.33" height="16" fill="#64a400"/>
<rect x="774.05" y="370" width="18.33" height="16" fill="#7dad00"/>
<rect x="774.05" y="386" width="18.33" height="8" fill="#a2ba00"/>
<rect x="774.05" y="394" width="18.33" height="8" fill="#afbf00"/>
<rect x="774.05" y="402" width="18.33" height="16" fill="#c8c800"/>
<rect x="774.05" y="418" width="18.33" height="8" fill="#c8be00"/>
<rect x="774.05" y="426" width="18.33" height="16" fill="#c8b400"/>
<rect x="774.05" y="442" width="18.33" height="16" fill="#c8a000"/>
<rect x="774.05" y="458" width="18.33" height="32" fill="#c89600"/>
<rect x="774.05" y="490" width="18.33" height="8" fill="#c8b000"/>
<rect x="774.05" y="498" width="18.33" height="8" fill="#c5c700"/>
<rect x="774.05" y="506" width="18.33" height="8" fill="#a2ba00"/>
<rect x="774.05" y="514" width="18.33" height="8" fill="#7dad00"/>
<rect x="774.05" y="522" width="18.33" height="8" fill="#57a000"/>
<rect x="774.05" y="530" width="18.33" height="8" fill="#2f9500"/>
<rect x="774.05" y="538" width="18.33" height="8" fill="#148e00"/>
<rect x="774.05" y="546" width="18.33" height="8" fill="#008000"/>
<rect x="774.05" y="554" width="18.33" height="8" fill="#006223"/>
<rect x="774.05" y="562" width="18.33" height="8" fill="#003c4f"/>
<rect x="774.05" y="570" width="18.33" height="8" fill="#00266a"/>
<rect x="774.05" y="578" width="18.33" height="8" fill="#00088d"/>
<rect x="774.05" y="586" width="18.33" height="8" fill="#040091"/>
<rect x="774.05" y="594" width="18.33" height="8" fill="#0d0088"/>
<rect x="774.05" y="602" width="18.33" height="8" fill="#1a007a"/>
<rect x="774.05" y="610" width="18.33" height="8" fill="#220072"/>
<rect x="774.05" y="618" width="18.33" height="8" fill="#2a006a"/>
<rect x="774.05" y="626" width="18.33" height="8" fill="#2e0066"/>
<rect x="774.05" y="634" width="18.33" height="8" fill="#320062"/>
<rect x="774.05" y="642" width="18.33" height="8" fill="#3e0055"/>
<rect x="774.05" y="650" width="18.33" height="8" fill="#44004e"/>
<rect x="774.05" y="658" width="18.33" height="8" fill="#390042"/>
<rect x="774.05" y="666" width="18.33" height="8" fill="#370040"/>
<rect x="774.05" y="674" width="18.33" height="8" fill="#36003e"/>
<rect x="774.05" y="682" width="18.33" height="8" fill="#34003c"/>
<rect x="774.05" y="690" width="18.33" height="8" fill="#320039"/>
<rect x="774.05" y="698" width="18.33" height="8" fill="#300037"/>
<rect x="774.05" y="706" width="18.33" height="8" fill="#2f0035"/>
<rect x="774.05" y="714" width="18.33" height="104" fill="#0b000c"/>
</g>
<rect x="142.75" y="169.75" width="649" height="648.75" fill="none" stroke="#000" stroke-width="1.5"/>
<g stroke="#000" stroke-width="1.5" opacity="0.75"><line x1="143" y1="818" x2="155" y2="818"/><line x1="779" y1="818" x2="791" y2="818"/><line x1="143" y1="738" x2="149" y2="738"/><line x1="785" y1="738" x2="791" y2="738"/><line x1="143" y1="658" x2="155" y2="658"/><line x1="779" y1="658" x2="791" y2="658"/><line x1="143" y1="578" x2="149" y2="578"/><line x1="785" y1="578" x2="791" y2="578"/><line x1="143" y1="498" x2="155" y2="498"/><line x1="779" y1="498" x2="791" y2="498"/><line x1="143" y1="418" x2="149" y2="418"/><line x1="785" y1="418" x2="791" y2="418"/><line x1="143" y1="338" x2="155" y2="338"/><line x1="779" y1="338" x2="791" y2="338"/><line x1="143" y1="258" x2="149" y2="258"/><line x1="785" y1="258" x2="791" y2="258"/><line x1="143" y1="178" x2="155" y2="178"/><line x1="779" y1="178" x2="791" y2="178"/><line x1="143.0" y1="818" x2="143.0" y2="806"/><line x1="143.0" y1="170" x2="143.0" y2="182"/><line x1="161.0" y1="818" x2="161.0" y2="812"/><line x1="161.0" y1="170" x2="161.0" y2="176"/><line x1="179.1" y1="818" x2="179.1" y2="812"/><line x1="179.1" y1="170" x2="179.1" y2="176"/><line x1="197.1" y1="818" x2="197.1" y2="812"/><line x1="197.1" y1="170" x2="197.1" y2="176"/><line x1="215.1" y1="818" x2="215.1" y2="812"/><line x1="215.1" y1="170" x2="215.1" y2="176"/><line x1="233.1" y1="818" x2="233.1" y2="806"/><line x1="233.1" y1="170" x2="233.1" y2="182"/><line x1="251.2" y1="818" x2="251.2" y2="812"/><line x1="251.2" y1="170" x2="251.2" y2="176"/><line x1="269.2" y1="818" x2="269.2" y2="812"/><line x1="269.2" y1="170" x2="269.2" y2="176"/><line x1="287.2" y1="818" x2="287.2" y2="812"/><line x1="287.2" y1="170" x2="287.2" y2="176"/><line x1="305.3" y1="818" x2="305.3" y2="812"/><line x1="305.3" y1="170" x2="305.3" y2="176"/><line x1="323.3" y1="818" x2="323.3" y2="806"/><line x1="323.3" y1="170" x2="323.3" y2="182"/><line x1="341.3" y1="818" x2="341.3" y2="812"/><line x1="341.3" y1="170" x2="341.3" y2="176"/><line x1="359.4" y1="818" x2="359.4" y2="812"/><line x1="359.4" y1="170" x2="359.4" y2="176"/><line x1="377.4" y1="818" x2="377.4" y2="812"/><line x1="377.4" y1="170" x2="377.4" y2="176"/><line x1="395.4" y1="818" x2="395.4" y2="812"/><line x1="395.4" y1="170" x2="395.4" y2="176"/><line x1="413.4" y1="818" x2="413.4" y2="806"/><line x1="413.4" y1="170" x2="413.4" y2="182"/><line x1="431.5" y1="818" x2="431.5" y2="812"/><line x1="431.5" y1="170" x2="431.5" y2="176"/><line x1="449.5" y1="818" x2="449.5" y2="812"/><line x1="449.5" y1="170" x2="449.5" y2="176"/><line x1="467.5" y1="818" x2="467.5" y2="812"/><line x1="467.5" y1="170" x2="467.5" y2="176"/><line x1="485.6" y1="818" x2="485.6" y2="812"/><line x1="485.6" y1="170" x2="485.6" y2="176"/><line x1="503.6" y1="818" x2="503.6" y2="806"/><line x1="503.6" y1="170" x2="503.6" y2="182"/><line x1="521.6" y1="818" x2="521.6" y2="812"/><line x1="521.6" y1="170" x2="521.6" y2="176"/><line x1="539.7" y1="818" x2="539.7" y2="812"/><line x1="539.7" y1="170" x2="539.7" y2="176"/><line x1="557.7" y1="818" x2="557.7" y2="812"/><line x1="557.7" y1="170" x2="557.7" y2="176"/><line x1="575.7" y1="818" x2="575.7" y2="812"/><line x1="575.7" y1="170" x2="575.7" y2="176"/><line x1="593.8" y1="818" x2="593.8" y2="806"/><line x1="593.8" y1="170" x2="593.8" y2="182"/><line x1="611.8" y1="818" x2="611.8" y2="812"/><line x1="611.8" y1="170" x2="611.8" y2="176"/><line x1="629.8" y1="818" x2="629.8" y2="812"/><line x1="629.8" y1="170" x2="629.8" y2="176"/><line x1="647.8" y1="818" x2="647.8" y2="812"/><line x1="647.8" y1="170" x2="647.8" y2="176"/><line x1="665.9" y1="818" x2="665.9" y2="812"/><line x1="665.9" y1="170" x2="665.9" y2="176"/><line x1="683.9" y1="818" x2="683.9" y2="806"/><line x1="683.9" y1="170" x2="683.9" y2="182"/><line x1="701.9" y1="818" x2="701.9" y2="812"/><line x1="701.9" y1="170" x2="701.9" y2="176"/><line x1="720.0" y1="818" x2="720.0" y2="812"/><line x1="720.0" y1="170" x2="720.0" y2="176"/><line x1="738.0" y1="818" x2="738.0" y2="812"/><line x1="738.0" y1="170" x2="738.0" y2="176"/><line x1="756.0" y1="818" x2="756.0" y2="812"/><line x1="756.0" y1="170" x2="756.0" y2="176"/><line x1="774.0" y1="818" x2="774.0" y2="806"/><line x1="774.0" y1="170" x2="774.0" y2="182"/><line x1="792.1" y1="818" x2="792.1" y2="812"/><line x1="792.1" y1="170" x2="792.1" y2="176"/></g>
<rect x="538.5" y="33" width="325" height="14.5" fill="url(#cb)" stroke="#000" stroke-width="1.2"/>
<g stroke="#000" stroke-width="1.2" opacity="0.8"><line x1="593.1" y1="33.5" x2="593.1" y2="36"/><line x1="593.1" y1="44.5" x2="593.1" y2="47"/><line x1="647.2" y1="33.5" x2="647.2" y2="36"/><line x1="647.2" y1="44.5" x2="647.2" y2="47"/><line x1="701.3" y1="33.5" x2="701.3" y2="36"/><line x1="701.3" y1="44.5" x2="701.3" y2="47"/><line x1="755.4" y1="33.5" x2="755.4" y2="36"/><line x1="755.4" y1="44.5" x2="755.4" y2="47"/><line x1="809.5" y1="33.5" x2="809.5" y2="36"/><line x1="809.5" y1="44.5" x2="809.5" y2="47"/></g>
<text x="470" y="155.5" text-anchor="middle">PBf20170301&#160; UT: 18.5&#160; mjd: 57813</text>
<text x="701" y="20" text-anchor="middle">TEC</text>
<text x="539.0" y="82" text-anchor="middle">0</text>
<text x="593.1" y="82" text-anchor="middle">10</text>
<text x="647.2" y="82" text-anchor="middle">20</text>
<text x="701.3" y="82" text-anchor="middle">30</text>
<text x="755.4" y="82" text-anchor="middle">40</text>
<text x="809.5" y="82" text-anchor="middle">50</text>
<text x="863.6" y="82" text-anchor="middle">60</text>
<text x="128.5" y="825" text-anchor="end">-40</text>
<text x="128.5" y="665" text-anchor="end">-20</text>
<text x="128.5" y="505" text-anchor="end">0</text>
<text x="128.5" y="345" text-anchor="end">20</text>
<text x="128.5" y="185" text-anchor="end">40</text>
<text x="143.0" y="852" text-anchor="middle">0</text>
<text x="233.1" y="852" text-anchor="middle">50</text>
<text x="323.3" y="852" text-anchor="middle">100</text>
<text x="413.4" y="852" text-anchor="middle">150</text>
<text x="503.6" y="852" text-anchor="middle">200</text>
<text x="593.8" y="852" text-anchor="middle">250</text>
<text x="683.9" y="852" text-anchor="middle">300</text>
<text x="774.0" y="852" text-anchor="middle">350</text>
<text x="0" y="417.5" text-anchor="start">Latitude</text>
<text x="467" y="893" text-anchor="middle">Longitude</text>
</svg>
</body></html>
